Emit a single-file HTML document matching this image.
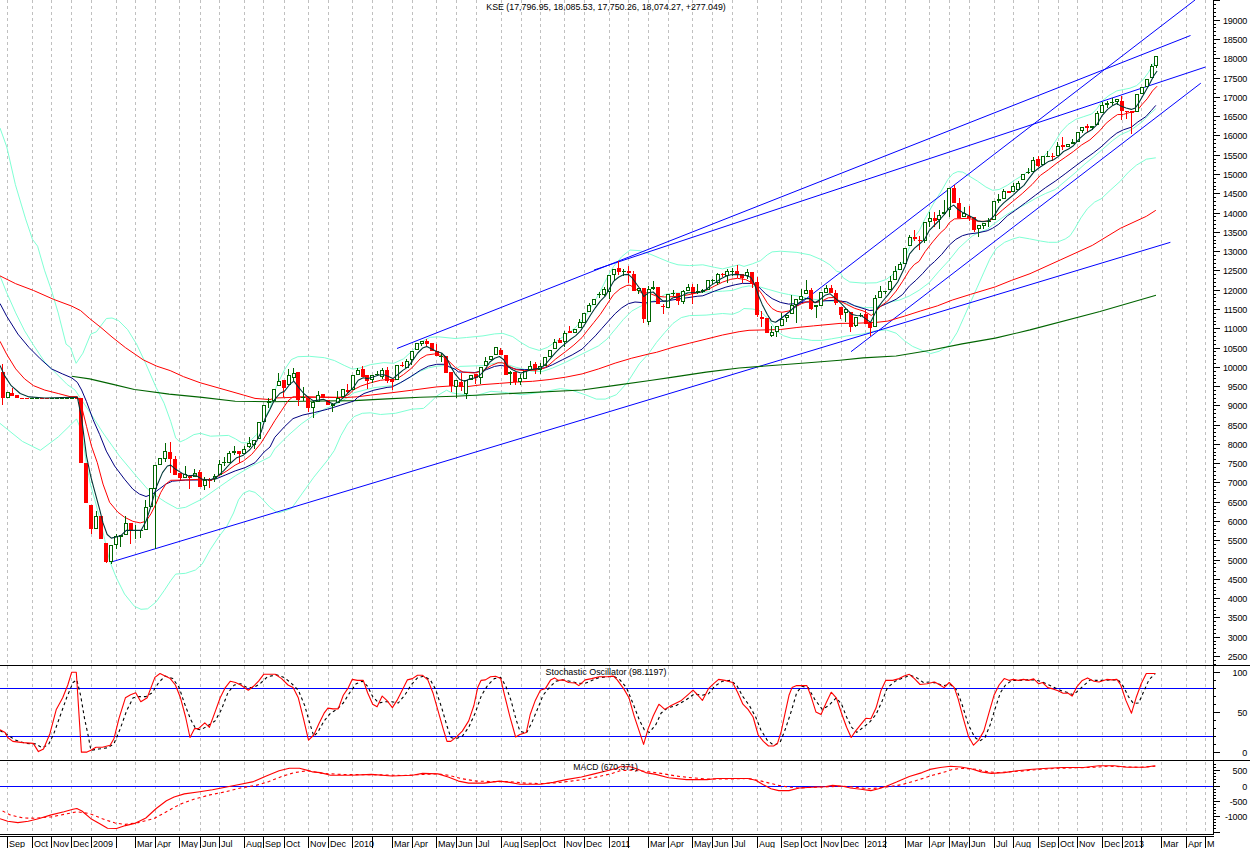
<!DOCTYPE html>
<html><head><meta charset="utf-8"><title>KSE</title>
<style>html,body{margin:0;padding:0;background:#fff;}body{width:1250px;height:848px;overflow:hidden;position:relative;font-family:"Liberation Sans",sans-serif;}</style></head>
<body>
<svg width="1250" height="848" viewBox="0 0 1250 848" style="position:absolute;left:0;top:0">
<rect width="1250" height="848" fill="#fff"/>
<g stroke="#c0c0c0" stroke-width="1" stroke-dasharray="3,3" shape-rendering="crispEdges">
<line x1="7.5" y1="0" x2="7.5" y2="834"/>
<line x1="32.5" y1="0" x2="32.5" y2="834"/>
<line x1="51.5" y1="0" x2="51.5" y2="834"/>
<line x1="71.5" y1="0" x2="71.5" y2="834"/>
<line x1="91.5" y1="0" x2="91.5" y2="834"/>
<line x1="116.5" y1="0" x2="116.5" y2="834"/>
<line x1="135.5" y1="0" x2="135.5" y2="834"/>
<line x1="155.5" y1="0" x2="155.5" y2="834"/>
<line x1="179.5" y1="0" x2="179.5" y2="834"/>
<line x1="200.5" y1="0" x2="200.5" y2="834"/>
<line x1="219.5" y1="0" x2="219.5" y2="834"/>
<line x1="244.5" y1="0" x2="244.5" y2="834"/>
<line x1="263.5" y1="0" x2="263.5" y2="834"/>
<line x1="284.5" y1="0" x2="284.5" y2="834"/>
<line x1="308.5" y1="0" x2="308.5" y2="834"/>
<line x1="328.5" y1="0" x2="328.5" y2="834"/>
<line x1="352.5" y1="0" x2="352.5" y2="834"/>
<line x1="372.5" y1="0" x2="372.5" y2="834"/>
<line x1="392.5" y1="0" x2="392.5" y2="834"/>
<line x1="412.5" y1="0" x2="412.5" y2="834"/>
<line x1="436.5" y1="0" x2="436.5" y2="834"/>
<line x1="456.5" y1="0" x2="456.5" y2="834"/>
<line x1="476.5" y1="0" x2="476.5" y2="834"/>
<line x1="501.5" y1="0" x2="501.5" y2="834"/>
<line x1="521.5" y1="0" x2="521.5" y2="834"/>
<line x1="540.5" y1="0" x2="540.5" y2="834"/>
<line x1="564.5" y1="0" x2="564.5" y2="834"/>
<line x1="584.5" y1="0" x2="584.5" y2="834"/>
<line x1="609.5" y1="0" x2="609.5" y2="834"/>
<line x1="628.5" y1="0" x2="628.5" y2="834"/>
<line x1="648.5" y1="0" x2="648.5" y2="834"/>
<line x1="668.5" y1="0" x2="668.5" y2="834"/>
<line x1="692.5" y1="0" x2="692.5" y2="834"/>
<line x1="712.5" y1="0" x2="712.5" y2="834"/>
<line x1="732.5" y1="0" x2="732.5" y2="834"/>
<line x1="757.5" y1="0" x2="757.5" y2="834"/>
<line x1="781.5" y1="0" x2="781.5" y2="834"/>
<line x1="801.5" y1="0" x2="801.5" y2="834"/>
<line x1="821.5" y1="0" x2="821.5" y2="834"/>
<line x1="841.5" y1="0" x2="841.5" y2="834"/>
<line x1="865.5" y1="0" x2="865.5" y2="834"/>
<line x1="885.5" y1="0" x2="885.5" y2="834"/>
<line x1="905.5" y1="0" x2="905.5" y2="834"/>
<line x1="929.5" y1="0" x2="929.5" y2="834"/>
<line x1="949.5" y1="0" x2="949.5" y2="834"/>
<line x1="969.5" y1="0" x2="969.5" y2="834"/>
<line x1="994.5" y1="0" x2="994.5" y2="834"/>
<line x1="1013.5" y1="0" x2="1013.5" y2="834"/>
<line x1="1038.5" y1="0" x2="1038.5" y2="834"/>
<line x1="1058.5" y1="0" x2="1058.5" y2="834"/>
<line x1="1077.5" y1="0" x2="1077.5" y2="834"/>
<line x1="1102.5" y1="0" x2="1102.5" y2="834"/>
<line x1="1122.5" y1="0" x2="1122.5" y2="834"/>
<line x1="1141.5" y1="0" x2="1141.5" y2="834"/>
<line x1="1161.5" y1="0" x2="1161.5" y2="834"/>
<line x1="1186.5" y1="0" x2="1186.5" y2="834"/>
<line x1="1205.5" y1="0" x2="1205.5" y2="834"/>
</g>
<g fill="none" stroke-width="1" stroke-linejoin="round">
<path d="M0.0,128.0 L6.8,147.0 L15.4,184.7 L25.6,218.9 L32.5,239.4 L37.6,246.2 L44.5,270.2 L51.5,290.5 L58.2,312.9 L66.1,344.2 L70.5,347.6 L76.1,363.3 L82.9,353.2 L90.7,334.1 L96.3,331.9 L106.4,318.5 L112.0,318.0 L118.7,320.7 L127.7,329.7 L136.6,344.2 L145.6,363.3 L156.0,387.2 L164.1,403.2 L170.7,421.4 L175.7,437.9 L179.8,442.0 L185.6,439.5 L193.9,434.6 L200.5,433.3 L210.4,436.2 L228.5,435.4 L235.2,438.7 L241.8,442.8 L246.7,442.8 L251.7,439.5 L256.6,434.6 L261.6,423.0 L270.0,408.1 L276.5,386.1 L284.7,369.5 L291.3,359.6 L297.9,356.7 L309.5,356.3 L324.4,357.7 L334.3,360.5 L344.2,365.4 L352.4,369.1 L360.7,367.9 L370.6,364.6 L383.8,362.6 L393.7,363.3 L403.6,358.8 L413.5,349.7 L421.8,341.5 L430.1,337.3 L438.3,336.8 L455.0,338.5 L466.5,337.5 L483.0,335.9 L494.6,333.9 L502.8,333.4 L512.8,336.7 L521.0,342.5 L529.3,347.4 L539.2,350.4 L547.4,347.4 L555.7,341.7 L565.6,335.1 L575.5,327.6 L585.4,316.1 L593.7,302.8 L600.3,291.3 L606.9,278.1 L613.5,266.5 L621.8,256.6 L630.0,250.0 L640.0,250.7 L649.9,254.0 L659.8,258.2 L669.7,262.3 L678.0,264.8 L689.5,265.6 L702.8,264.8 L714.3,267.3 L722.6,268.9 L732.5,266.4 L739.1,264.8 L744.0,266.4 L752.3,263.9 L760.6,260.6 L767.2,254.9 L772.1,251.9 L780.4,251.2 L796.9,252.4 L810.1,254.9 L821.7,259.8 L829.9,264.8 L836.6,271.2 L840.0,272.2 L843.2,277.8 L849.8,282.0 L863.0,283.1 L876.2,282.8 L886.2,279.5 L892.8,274.5 L899.4,267.1 L904.6,259.7 L909.6,246.9 L915.4,235.7 L919.2,230.8 L924.8,219.2 L933.0,204.3 L941.3,191.1 L947.9,179.5 L952.8,173.8 L957.8,171.6 L962.8,172.1 L969.4,176.2 L977.6,181.2 L985.9,187.0 L992.5,190.3 L999.1,189.5 L1007.3,185.3 L1015.6,179.5 L1023.9,174.6 L1032.1,168.0 L1040.4,159.7 L1048.6,151.5 L1055.2,141.6 L1060.9,132.1 L1067.9,124.6 L1075.9,119.3 L1083.8,116.6 L1091.7,114.0 L1097.0,108.7 L1102.3,100.8 L1108.9,95.5 L1116.8,90.9 L1123.4,89.5 L1130.0,88.2 L1136.6,85.6 L1143.2,79.6 L1148.5,72.4 L1152.5,65.1 L1156.4,59.8" stroke="#7fffd4"/>
<path d="M0.0,275.9 L6.7,292.7 L15.7,312.9 L24.6,330.8 L33.6,345.3 L44.8,362.1 L56.0,373.3 L67.2,384.5 L75.0,390.0 L91.5,414.8 L103.0,432.9 L119.5,456.1 L136.1,475.9 L147.6,489.1 L155.9,495.7 L165.8,502.3 L177.3,508.6 L185.6,507.3 L202.1,499.0 L218.6,487.4 L235.2,475.9 L251.7,466.0 L270.0,456.9 L274.8,448.8 L288.0,435.6 L301.2,424.0 L312.8,415.8 L324.4,409.2 L337.6,403.4 L347.5,397.6 L354.1,392.7 L364.0,390.2 L373.9,387.7 L387.1,386.1 L395.4,385.2 L403.6,381.1 L411.9,376.2 L420.2,371.2 L428.4,367.9 L436.7,366.2 L444.9,365.4 L455.0,369.5 L459.9,366.4 L483.0,365.6 L499.5,362.3 L516.1,367.3 L532.6,371.4 L542.5,371.4 L552.4,368.1 L565.6,362.3 L582.1,354.0 L598.6,345.8 L606.9,339.2 L615.2,329.3 L623.4,319.4 L631.7,311.1 L640.0,306.5 L649.1,302.8 L656.5,299.5 L664.8,294.5 L673.0,293.2 L689.5,292.8 L706.1,292.0 L722.6,291.2 L732.5,290.4 L742.4,287.1 L749.0,285.9 L758.9,286.7 L768.8,289.5 L780.4,292.8 L788.6,294.5 L798.5,296.2 L808.5,298.6 L821.7,300.3 L831.6,301.4 L840.0,301.3 L849.8,304.3 L863.0,307.6 L872.9,307.6 L879.5,305.9 L887.8,302.6 L899.4,300.1 L909.3,296.0 L919.2,290.2 L929.1,282.8 L939.0,271.2 L948.9,260.5 L958.8,248.1 L967.4,240.3 L972.7,235.7 L979.0,232.4 L987.2,229.5 L992.5,225.0 L999.1,220.0 L1007.3,214.2 L1015.6,209.3 L1025.5,204.3 L1035.4,198.5 L1045.3,193.6 L1055.2,189.5 L1065.2,181.2 L1075.1,172.9 L1085.0,163.9 L1093.2,157.3 L1100.0,151.5 L1112.8,140.4 L1120.8,134.5 L1128.7,131.2 L1134.0,127.9 L1141.9,121.9 L1149.8,114.0 L1155.8,108.7" stroke="#7fffd4"/>
<path d="M0.0,423.4 L22.4,441.4 L40.3,450.3 L58.3,436.9 L70.0,425.5 L76.6,418.9 L81.6,431.3 L86.5,464.3 L90.6,485.0 L94.8,499.8 L99.7,518.0 L104.7,539.5 L109.6,560.9 L116.2,577.4 L124.5,594.0 L134.4,606.3 L141.0,609.3 L147.6,608.8 L155.9,602.2 L164.1,590.7 L170.7,580.7 L175.7,574.1 L185.6,573.3 L195.5,570.0 L202.1,564.2 L210.4,549.4 L218.6,537.0 L226.9,526.2 L233.5,513.0 L238.5,499.8 L243.4,493.2 L249.2,490.7 L255.0,492.4 L261.6,498.2 L270.0,507.3 L278.0,513.0 L291.4,508.6 L313.8,477.2 L327.7,460.0 L334.3,450.5 L340.9,435.6 L347.5,424.0 L354.1,416.6 L362.3,413.3 L370.6,412.8 L380.5,414.5 L395.4,413.3 L411.9,409.2 L423.5,408.4 L430.1,402.6 L436.7,396.0 L446.6,390.2 L451.5,392.7 L455.0,393.5 L475.3,395.8 L491.0,391.3 L504.4,392.4 L522.3,394.7 L540.3,392.4 L560.4,388.6 L571.6,390.2 L585.1,394.7 L596.3,399.1 L605.2,399.1 L616.4,394.7 L627.6,382.3 L639.4,363.7 L648.3,354.0 L656.5,342.4 L664.8,332.5 L673.0,323.4 L681.3,317.6 L689.5,315.6 L706.1,315.1 L722.6,313.5 L732.5,314.3 L739.1,311.8 L744.0,308.5 L752.3,309.0 L758.9,310.2 L765.5,316.0 L772.1,324.2 L777.1,331.7 L783.7,335.8 L791.9,338.3 L801.8,338.8 L811.8,340.4 L821.7,340.4 L831.6,338.8 L840.0,337.4 L846.5,336.0 L863.0,334.0 L876.2,330.7 L886.2,329.9 L896.1,333.2 L904.3,340.6 L912.6,346.4 L922.5,350.5 L930.7,353.5 L939.0,351.3 L948.9,345.6 L957.2,332.3 L963.8,317.5 L970.4,302.6 L977.0,287.8 L983.6,272.9 L989.7,259.3 L996.3,248.5 L1004.6,242.3 L1012.8,239.0 L1019.4,237.1 L1029.4,238.8 L1040.4,241.0 L1048.6,242.3 L1056.9,242.3 L1065.2,239.0 L1070.1,235.7 L1074.6,228.9 L1080.9,217.9 L1087.3,208.8 L1094.6,202.1 L1101.2,198.8 L1110.3,190.2 L1120.3,181.2 L1128.4,172.2 L1136.4,165.2 L1146.4,159.2 L1155.8,157.8" stroke="#7fffd4"/>
</g>
<g stroke="#0000ff" stroke-width="1" fill="none">
<line x1="397" y1="348.5" x2="1190.5" y2="35.5"/>
<line x1="594" y1="270" x2="1205.5" y2="67"/>
<line x1="776" y1="322" x2="1195" y2="0"/>
<line x1="851" y1="351.7" x2="1200.8" y2="83.2"/>
<line x1="111.3" y1="562" x2="1170.4" y2="242.3"/>
</g>
<g fill="none" stroke-width="1" stroke-linejoin="round">
<path d="M71.7,376.2 L89.6,378.9 L112.0,384.1 L134.4,389.5 L138.5,390.0 L169.1,394.1 L202.1,397.4 L235.2,401.2 L270.8,401.8 L304.5,401.3 L354.1,400.6 L387.1,398.9 L420.2,397.3 L455.0,396.3 L582.1,390.0 L615.2,385.4 L650.0,380.5 L673.0,377.1 L706.1,372.1 L739.1,368.0 L772.1,365.5 L805.2,363.0 L840.0,360.2 L863.0,357.9 L896.1,356.0 L929.1,350.5 L962.1,343.9 L995.2,338.1 L1030.0,329.9 L1100.0,311.5 L1156.0,295.3" stroke="#006400" stroke-width="1.1"/>
<path d="M0.0,275.9 L15.7,283.7 L33.6,290.5 L53.7,299.4 L71.7,306.1 L80.6,310.6 L89.6,318.5 L100.8,327.4 L112.0,337.0 L125.4,347.6 L143.3,359.9 L156.8,366.2 L170.2,370.6 L183.6,376.7 L200.0,382.7 L243.4,395.0 L255.0,398.4 L270.0,399.6 L274.8,398.0 L294.6,397.3 L321.1,397.3 L344.2,397.6 L357.4,396.8 L370.6,395.1 L392.1,392.7 L411.9,390.2 L436.7,386.9 L455.0,385.7 L466.5,386.7 L483.0,384.6 L499.5,383.4 L516.1,382.1 L532.6,381.3 L549.1,379.6 L565.6,377.2 L582.1,373.9 L598.6,368.9 L615.2,363.1 L631.7,358.2 L650.0,353.7 L656.5,352.3 L673.0,347.3 L689.5,343.2 L706.1,339.1 L722.6,335.0 L739.1,331.7 L749.0,330.3 L780.4,329.5 L796.9,327.5 L813.4,325.9 L840.0,323.4 L854.8,323.3 L876.2,322.4 L887.8,321.1 L904.3,316.2 L920.8,310.9 L937.3,305.9 L952.2,300.1 L970.4,294.4 L995.2,286.9 L1011.7,280.3 L1030.0,273.7 L1060.2,260.0 L1092.3,245.4 L1120.4,228.3 L1146.4,216.3 L1155.8,210.3" stroke="#ff0000"/>
<path d="M0.0,303.5 L6.7,316.2 L17.9,334.1 L29.1,347.6 L40.3,358.8 L51.5,368.9 L62.7,374.0 L71.7,377.8 L77.3,382.3 L81.6,390.0 L86.5,401.6 L93.1,419.7 L99.7,434.6 L106.3,451.1 L114.6,466.0 L124.5,479.2 L132.8,489.1 L139.4,494.0 L146.0,496.5 L152.6,494.0 L159.2,489.1 L165.8,484.1 L172.4,481.2 L185.6,480.0 L202.1,480.0 L215.3,479.2 L225.2,475.1 L235.2,470.9 L245.1,467.6 L255.0,462.7 L264.1,452.0 L270.0,447.0 L274.8,437.3 L284.7,426.5 L293.0,418.6 L302.9,415.0 L314.5,412.5 L327.7,409.2 L340.9,405.1 L354.1,400.9 L357.4,397.6 L364.0,393.5 L373.9,390.2 L387.1,387.4 L392.1,386.9 L400.3,382.8 L410.2,377.0 L420.2,370.4 L428.4,366.2 L436.7,364.3 L444.9,364.3 L449.9,367.1 L455.0,369.1 L458.3,371.9 L474.8,372.5 L486.3,369.7 L494.6,366.4 L501.2,365.3 L507.8,366.9 L516.1,369.2 L524.3,369.7 L535.9,369.2 L545.8,367.6 L552.4,364.8 L562.3,359.8 L572.2,354.9 L582.1,349.1 L588.7,342.5 L595.3,335.9 L601.9,328.4 L608.5,321.0 L615.2,313.6 L621.8,307.8 L628.4,303.7 L635.0,302.0 L640.0,302.4 L644.9,303.2 L649.9,301.9 L664.8,301.1 L681.3,298.6 L697.8,296.2 L702.8,295.8 L714.3,291.2 L725.9,287.1 L735.8,284.6 L742.4,283.4 L752.3,283.4 L758.9,287.1 L765.5,293.7 L772.1,298.6 L780.4,302.4 L788.6,304.1 L796.9,303.6 L805.2,301.9 L815.1,302.4 L825.0,300.8 L834.9,300.3 L839.1,301.0 L846.5,301.8 L854.8,305.9 L863.0,308.4 L869.6,310.5 L874.6,310.1 L879.5,306.8 L886.2,303.9 L896.1,299.3 L902.7,294.4 L909.3,286.1 L915.9,280.3 L922.5,273.7 L929.1,266.3 L934.4,261.7 L941.8,254.3 L949.2,245.2 L955.8,239.4 L962.4,235.7 L968.2,234.1 L978.1,232.8 L987.2,230.8 L992.5,228.3 L998.8,224.2 L1007.3,215.9 L1015.6,210.1 L1025.5,202.7 L1035.4,195.2 L1045.3,187.8 L1055.2,181.2 L1065.2,173.8 L1075.1,166.3 L1085.0,158.9 L1093.2,153.1 L1101.1,146.9 L1110.2,138.4 L1116.8,133.1 L1123.4,129.8 L1131.3,127.2 L1137.9,121.9 L1145.9,116.6 L1151.2,110.7 L1155.8,105.4" stroke="#000080"/>
<path d="M0.0,341.3 L6.7,354.3 L15.7,368.9 L24.6,378.9 L33.6,385.7 L44.8,390.1 L58.2,393.5 L70.0,396.6 L77.4,396.6 L81.6,406.5 L86.5,426.3 L91.5,446.2 L97.3,462.7 L103.0,484.1 L109.6,502.3 L117.9,512.2 L124.5,517.2 L132.8,521.3 L140.2,522.9 L146.0,521.3 L150.9,513.9 L155.9,504.0 L160.8,492.4 L165.8,484.1 L170.7,480.3 L185.6,480.0 L202.1,479.2 L212.0,480.0 L218.6,475.9 L226.9,470.9 L235.2,465.1 L243.4,461.0 L251.7,454.4 L260.8,443.4 L269.1,430.1 L274.8,420.7 L281.4,410.8 L288.0,400.9 L293.0,396.8 L304.5,396.8 L337.6,397.3 L344.2,396.8 L349.1,394.3 L354.1,389.4 L360.7,386.1 L370.6,382.8 L380.5,380.3 L387.1,379.5 L395.4,379.8 L403.6,374.5 L411.9,367.9 L420.2,358.8 L426.8,355.0 L435.0,353.9 L441.6,355.5 L448.2,360.5 L455.8,368.0 L463.2,372.2 L474.8,373.0 L483.0,370.6 L491.3,365.6 L497.9,362.8 L502.8,362.8 L507.8,365.6 L516.1,369.7 L524.3,370.6 L535.9,370.2 L544.1,368.1 L549.1,364.8 L555.7,359.0 L565.6,351.6 L573.9,345.0 L582.1,337.5 L587.1,330.9 L593.7,322.7 L600.3,314.4 L606.9,304.5 L613.5,294.6 L620.1,288.8 L626.7,285.5 L630.0,285.2 L633.3,287.2 L639.1,291.7 L644.1,292.9 L648.3,292.8 L656.5,296.2 L664.8,297.0 L681.3,296.2 L697.8,292.8 L706.1,290.4 L714.3,286.2 L722.6,282.1 L730.8,279.3 L737.4,278.3 L745.7,279.6 L752.3,282.9 L757.3,287.9 L762.2,294.5 L767.2,302.8 L772.1,308.5 L777.1,311.3 L782.0,312.3 L788.6,311.0 L795.2,306.9 L801.8,303.6 L808.5,301.4 L815.1,302.4 L821.7,301.1 L828.3,297.8 L833.2,297.5 L839.1,300.6 L846.5,304.3 L854.8,308.4 L863.0,310.9 L868.0,313.4 L871.3,315.5 L876.2,310.9 L881.2,305.9 L887.8,301.0 L896.1,291.1 L902.7,281.2 L909.3,270.4 L914.2,264.6 L919.1,261.3 L925.3,251.4 L932.7,241.9 L940.1,233.2 L945.6,228.3 L949.5,222.5 L954.5,218.9 L966.1,218.4 L972.7,219.2 L977.6,221.3 L989.2,221.3 L994.1,217.5 L1002.4,210.1 L1012.3,201.8 L1022.2,193.6 L1032.1,184.5 L1040.4,175.4 L1048.6,169.6 L1056.9,163.0 L1065.2,157.3 L1073.4,151.5 L1081.7,144.9 L1089.9,139.9 L1099.8,130.7 L1106.2,123.2 L1112.8,117.9 L1117.5,114.6 L1123.4,114.4 L1131.3,112.0 L1136.6,111.3 L1141.9,104.7 L1147.2,98.8 L1152.5,90.9 L1157.1,86.2" stroke="#ff0000"/>
</g>
<g shape-rendering="crispEdges">
<rect x="2" y="364" width="1" height="41" fill="#ff0000"/>
<rect x="1" y="372" width="4" height="26" fill="#ff0000"/>
<rect x="6.5" y="392.5" width="3" height="5" fill="#fff" stroke="#006400" stroke-width="1"/>
<rect x="12" y="388" width="1" height="8" fill="#ff0000"/>
<rect x="10" y="393" width="4" height="3" fill="#ff0000"/>
<rect x="17" y="395" width="1" height="3" fill="#ff0000"/>
<rect x="15" y="395" width="4" height="3" fill="#ff0000"/>
<rect x="22" y="398" width="1" height="1" fill="#ff0000"/>
<rect x="20" y="398" width="4" height="1" fill="#ff0000"/>
<rect x="27" y="398" width="1" height="1" fill="#ff0000"/>
<rect x="25" y="398" width="4" height="1" fill="#ff0000"/>
<rect x="32" y="398" width="1" height="1" fill="#006400"/>
<rect x="30" y="398" width="4" height="1" fill="#006400"/>
<rect x="37" y="398" width="1" height="1" fill="#006400"/>
<rect x="35" y="398" width="4" height="1" fill="#006400"/>
<rect x="42" y="398" width="1" height="1" fill="#ff0000"/>
<rect x="40" y="398" width="4" height="1" fill="#ff0000"/>
<rect x="46" y="398" width="1" height="1" fill="#ff0000"/>
<rect x="45" y="398" width="4" height="1" fill="#ff0000"/>
<rect x="51" y="398" width="1" height="1" fill="#006400"/>
<rect x="50" y="398" width="4" height="1" fill="#006400"/>
<rect x="56" y="398" width="1" height="1" fill="#006400"/>
<rect x="55" y="398" width="4" height="1" fill="#006400"/>
<rect x="61" y="398" width="1" height="1" fill="#006400"/>
<rect x="60" y="398" width="4" height="1" fill="#006400"/>
<rect x="66" y="398" width="1" height="1" fill="#006400"/>
<rect x="65" y="398" width="4" height="1" fill="#006400"/>
<rect x="71" y="398" width="1" height="1" fill="#006400"/>
<rect x="70" y="398" width="4" height="1" fill="#006400"/>
<rect x="76" y="398" width="1" height="1" fill="#ff0000"/>
<rect x="75" y="398" width="4" height="1" fill="#ff0000"/>
<rect x="81" y="398" width="1" height="65" fill="#ff0000"/>
<rect x="79" y="398" width="4" height="65" fill="#ff0000"/>
<rect x="86" y="463" width="1" height="40" fill="#ff0000"/>
<rect x="84" y="463" width="4" height="40" fill="#ff0000"/>
<rect x="91" y="505" width="1" height="29" fill="#ff0000"/>
<rect x="89" y="505" width="4" height="24" fill="#ff0000"/>
<rect x="96" y="511" width="1" height="5" fill="#006400"/>
<rect x="94.5" y="516.5" width="3" height="12" fill="#fff" stroke="#006400" stroke-width="1"/>
<rect x="101" y="516" width="1" height="23" fill="#ff0000"/>
<rect x="99" y="516" width="4" height="23" fill="#ff0000"/>
<rect x="106" y="543" width="1" height="20" fill="#ff0000"/>
<rect x="104" y="543" width="4" height="19" fill="#ff0000"/>
<rect x="111" y="562" width="1" height="2" fill="#006400"/>
<rect x="109.5" y="545.5" width="3" height="16" fill="#fff" stroke="#006400" stroke-width="1"/>
<rect x="116" y="534" width="1" height="2" fill="#006400"/>
<rect x="116" y="545" width="1" height="4" fill="#006400"/>
<rect x="114.5" y="536.5" width="3" height="8" fill="#fff" stroke="#006400" stroke-width="1"/>
<rect x="120" y="535" width="1" height="12" fill="#006400"/>
<rect x="119" y="535" width="4" height="2" fill="#006400"/>
<rect x="125" y="516" width="1" height="7" fill="#006400"/>
<rect x="124.5" y="523.5" width="3" height="11" fill="#fff" stroke="#006400" stroke-width="1"/>
<rect x="130" y="523" width="1" height="21" fill="#ff0000"/>
<rect x="129" y="523" width="4" height="7" fill="#ff0000"/>
<rect x="135" y="525" width="1" height="14" fill="#006400"/>
<rect x="134" y="530" width="4" height="1" fill="#006400"/>
<rect x="140" y="530" width="1" height="8" fill="#006400"/>
<rect x="139" y="530" width="4" height="1" fill="#006400"/>
<rect x="145" y="500" width="1" height="7" fill="#006400"/>
<rect x="144.5" y="507.5" width="3" height="22" fill="#fff" stroke="#006400" stroke-width="1"/>
<rect x="149.5" y="488.5" width="3" height="18" fill="#fff" stroke="#006400" stroke-width="1"/>
<rect x="155" y="489" width="1" height="60" fill="#006400"/>
<rect x="153.5" y="465.5" width="3" height="23" fill="#fff" stroke="#006400" stroke-width="1"/>
<rect x="158.5" y="458.5" width="3" height="6" fill="#fff" stroke="#006400" stroke-width="1"/>
<rect x="165" y="443" width="1" height="8" fill="#006400"/>
<rect x="165" y="459" width="1" height="3" fill="#006400"/>
<rect x="163.5" y="451.5" width="3" height="7" fill="#fff" stroke="#006400" stroke-width="1"/>
<rect x="170" y="442" width="1" height="31" fill="#ff0000"/>
<rect x="168" y="452" width="4" height="7" fill="#ff0000"/>
<rect x="175" y="456" width="1" height="19" fill="#ff0000"/>
<rect x="173" y="459" width="4" height="16" fill="#ff0000"/>
<rect x="180" y="473" width="1" height="7" fill="#ff0000"/>
<rect x="178" y="473" width="4" height="5" fill="#ff0000"/>
<rect x="185" y="466" width="1" height="8" fill="#006400"/>
<rect x="183.5" y="474.5" width="3" height="3" fill="#fff" stroke="#006400" stroke-width="1"/>
<rect x="189" y="475" width="1" height="14" fill="#ff0000"/>
<rect x="188" y="476" width="4" height="2" fill="#ff0000"/>
<rect x="194" y="469" width="1" height="4" fill="#006400"/>
<rect x="193.5" y="473.5" width="3" height="3" fill="#fff" stroke="#006400" stroke-width="1"/>
<rect x="199" y="470" width="1" height="17" fill="#ff0000"/>
<rect x="198" y="472" width="4" height="15" fill="#ff0000"/>
<rect x="204" y="477" width="1" height="3" fill="#006400"/>
<rect x="204" y="486" width="1" height="4" fill="#006400"/>
<rect x="203.5" y="480.5" width="3" height="5" fill="#fff" stroke="#006400" stroke-width="1"/>
<rect x="209" y="478" width="1" height="10" fill="#ff0000"/>
<rect x="208" y="480" width="4" height="1" fill="#ff0000"/>
<rect x="214" y="474" width="1" height="2" fill="#006400"/>
<rect x="214" y="479" width="1" height="3" fill="#006400"/>
<rect x="213.5" y="476.5" width="3" height="2" fill="#fff" stroke="#006400" stroke-width="1"/>
<rect x="219" y="460" width="1" height="4" fill="#006400"/>
<rect x="218.5" y="464.5" width="3" height="10" fill="#fff" stroke="#006400" stroke-width="1"/>
<rect x="224" y="457" width="1" height="9" fill="#006400"/>
<rect x="222" y="462" width="4" height="1" fill="#006400"/>
<rect x="229" y="451" width="1" height="2" fill="#006400"/>
<rect x="227.5" y="453.5" width="3" height="9" fill="#fff" stroke="#006400" stroke-width="1"/>
<rect x="234" y="446" width="1" height="9" fill="#006400"/>
<rect x="232" y="451" width="4" height="2" fill="#006400"/>
<rect x="239" y="451" width="1" height="12" fill="#ff0000"/>
<rect x="237" y="451" width="4" height="3" fill="#ff0000"/>
<rect x="244" y="446" width="1" height="3" fill="#006400"/>
<rect x="242.5" y="449.5" width="3" height="4" fill="#fff" stroke="#006400" stroke-width="1"/>
<rect x="249" y="437" width="1" height="6" fill="#006400"/>
<rect x="249" y="447" width="1" height="1" fill="#006400"/>
<rect x="247.5" y="443.5" width="3" height="3" fill="#fff" stroke="#006400" stroke-width="1"/>
<rect x="254" y="445" width="1" height="4" fill="#006400"/>
<rect x="252.5" y="440.5" width="3" height="4" fill="#fff" stroke="#006400" stroke-width="1"/>
<rect x="257.5" y="422.5" width="3" height="16" fill="#fff" stroke="#006400" stroke-width="1"/>
<rect x="262.5" y="405.5" width="3" height="16" fill="#fff" stroke="#006400" stroke-width="1"/>
<rect x="268" y="398" width="1" height="10" fill="#006400"/>
<rect x="267" y="401" width="4" height="2" fill="#006400"/>
<rect x="272.5" y="389.5" width="3" height="11" fill="#fff" stroke="#006400" stroke-width="1"/>
<rect x="278" y="373" width="1" height="8" fill="#006400"/>
<rect x="277.5" y="381.5" width="3" height="4" fill="#fff" stroke="#006400" stroke-width="1"/>
<rect x="283" y="380" width="1" height="17" fill="#ff0000"/>
<rect x="282" y="380" width="4" height="8" fill="#ff0000"/>
<rect x="288" y="369" width="1" height="6" fill="#006400"/>
<rect x="287.5" y="375.5" width="3" height="9" fill="#fff" stroke="#006400" stroke-width="1"/>
<rect x="293" y="368" width="1" height="5" fill="#006400"/>
<rect x="293" y="378" width="1" height="3" fill="#006400"/>
<rect x="292.5" y="373.5" width="3" height="4" fill="#fff" stroke="#006400" stroke-width="1"/>
<rect x="298" y="372" width="1" height="34" fill="#ff0000"/>
<rect x="296" y="372" width="4" height="28" fill="#ff0000"/>
<rect x="303" y="387" width="1" height="14" fill="#006400"/>
<rect x="301" y="397" width="4" height="1" fill="#006400"/>
<rect x="308" y="396" width="1" height="16" fill="#ff0000"/>
<rect x="306" y="398" width="4" height="10" fill="#ff0000"/>
<rect x="313" y="401" width="1" height="1" fill="#006400"/>
<rect x="313" y="408" width="1" height="10" fill="#006400"/>
<rect x="311.5" y="402.5" width="3" height="5" fill="#fff" stroke="#006400" stroke-width="1"/>
<rect x="318" y="391" width="1" height="4" fill="#006400"/>
<rect x="316.5" y="395.5" width="3" height="6" fill="#fff" stroke="#006400" stroke-width="1"/>
<rect x="323" y="394" width="1" height="4" fill="#ff0000"/>
<rect x="321" y="394" width="4" height="4" fill="#ff0000"/>
<rect x="328" y="400" width="1" height="5" fill="#ff0000"/>
<rect x="326" y="400" width="4" height="5" fill="#ff0000"/>
<rect x="332" y="403" width="1" height="9" fill="#006400"/>
<rect x="331" y="404" width="4" height="2" fill="#006400"/>
<rect x="337" y="391" width="1" height="7" fill="#006400"/>
<rect x="336.5" y="398.5" width="3" height="4" fill="#fff" stroke="#006400" stroke-width="1"/>
<rect x="341.5" y="389.5" width="3" height="7" fill="#fff" stroke="#006400" stroke-width="1"/>
<rect x="347" y="384" width="1" height="9" fill="#ff0000"/>
<rect x="346" y="390" width="4" height="2" fill="#ff0000"/>
<rect x="351.5" y="375.5" width="3" height="14" fill="#fff" stroke="#006400" stroke-width="1"/>
<rect x="357" y="368" width="1" height="2" fill="#006400"/>
<rect x="356.5" y="370.5" width="3" height="4" fill="#fff" stroke="#006400" stroke-width="1"/>
<rect x="362" y="366" width="1" height="11" fill="#ff0000"/>
<rect x="361" y="369" width="4" height="8" fill="#ff0000"/>
<rect x="367" y="375" width="1" height="14" fill="#ff0000"/>
<rect x="365" y="375" width="4" height="6" fill="#ff0000"/>
<rect x="372" y="380" width="1" height="3" fill="#006400"/>
<rect x="370.5" y="375.5" width="3" height="4" fill="#fff" stroke="#006400" stroke-width="1"/>
<rect x="377" y="371" width="1" height="5" fill="#006400"/>
<rect x="375" y="374" width="4" height="1" fill="#006400"/>
<rect x="382" y="368" width="1" height="2" fill="#006400"/>
<rect x="382" y="377" width="1" height="2" fill="#006400"/>
<rect x="380.5" y="370.5" width="3" height="6" fill="#fff" stroke="#006400" stroke-width="1"/>
<rect x="387" y="367" width="1" height="16" fill="#ff0000"/>
<rect x="385" y="370" width="4" height="11" fill="#ff0000"/>
<rect x="392" y="378" width="1" height="12" fill="#ff0000"/>
<rect x="390" y="379" width="4" height="3" fill="#ff0000"/>
<rect x="395.5" y="365.5" width="3" height="14" fill="#fff" stroke="#006400" stroke-width="1"/>
<rect x="402" y="362" width="1" height="5" fill="#ff0000"/>
<rect x="400" y="365" width="4" height="1" fill="#ff0000"/>
<rect x="406" y="359" width="1" height="2" fill="#006400"/>
<rect x="405.5" y="361.5" width="3" height="6" fill="#fff" stroke="#006400" stroke-width="1"/>
<rect x="411" y="360" width="1" height="5" fill="#006400"/>
<rect x="410.5" y="351.5" width="3" height="8" fill="#fff" stroke="#006400" stroke-width="1"/>
<rect x="415.5" y="343.5" width="3" height="6" fill="#fff" stroke="#006400" stroke-width="1"/>
<rect x="421" y="344" width="1" height="2" fill="#006400"/>
<rect x="420.5" y="341.5" width="3" height="2" fill="#fff" stroke="#006400" stroke-width="1"/>
<rect x="426" y="339" width="1" height="7" fill="#ff0000"/>
<rect x="425" y="341" width="4" height="3" fill="#ff0000"/>
<rect x="431" y="343" width="1" height="8" fill="#ff0000"/>
<rect x="430" y="343" width="4" height="8" fill="#ff0000"/>
<rect x="436" y="344" width="1" height="12" fill="#ff0000"/>
<rect x="435" y="351" width="4" height="5" fill="#ff0000"/>
<rect x="441" y="353" width="1" height="9" fill="#006400"/>
<rect x="439" y="356" width="4" height="1" fill="#006400"/>
<rect x="446" y="356" width="1" height="17" fill="#ff0000"/>
<rect x="444" y="356" width="4" height="17" fill="#ff0000"/>
<rect x="451" y="372" width="1" height="20" fill="#ff0000"/>
<rect x="449" y="372" width="4" height="14" fill="#ff0000"/>
<rect x="456" y="387" width="1" height="11" fill="#006400"/>
<rect x="454.5" y="380.5" width="3" height="6" fill="#fff" stroke="#006400" stroke-width="1"/>
<rect x="461" y="373" width="1" height="18" fill="#ff0000"/>
<rect x="459" y="382" width="4" height="5" fill="#ff0000"/>
<rect x="466" y="394" width="1" height="5" fill="#006400"/>
<rect x="464.5" y="380.5" width="3" height="13" fill="#fff" stroke="#006400" stroke-width="1"/>
<rect x="469.5" y="375.5" width="3" height="4" fill="#fff" stroke="#006400" stroke-width="1"/>
<rect x="475" y="374" width="1" height="10" fill="#ff0000"/>
<rect x="474" y="374" width="4" height="4" fill="#ff0000"/>
<rect x="480" y="378" width="1" height="6" fill="#006400"/>
<rect x="479.5" y="367.5" width="3" height="10" fill="#fff" stroke="#006400" stroke-width="1"/>
<rect x="485" y="357" width="1" height="4" fill="#006400"/>
<rect x="484.5" y="361.5" width="3" height="4" fill="#fff" stroke="#006400" stroke-width="1"/>
<rect x="489.5" y="356.5" width="3" height="3" fill="#fff" stroke="#006400" stroke-width="1"/>
<rect x="494.5" y="347.5" width="3" height="7" fill="#fff" stroke="#006400" stroke-width="1"/>
<rect x="500" y="348" width="1" height="7" fill="#ff0000"/>
<rect x="499" y="350" width="4" height="5" fill="#ff0000"/>
<rect x="505" y="355" width="1" height="20" fill="#ff0000"/>
<rect x="504" y="355" width="4" height="20" fill="#ff0000"/>
<rect x="510" y="371" width="1" height="14" fill="#006400"/>
<rect x="508" y="372" width="4" height="2" fill="#006400"/>
<rect x="515" y="372" width="1" height="13" fill="#ff0000"/>
<rect x="513" y="372" width="4" height="10" fill="#ff0000"/>
<rect x="520" y="374" width="1" height="4" fill="#006400"/>
<rect x="520" y="382" width="1" height="3" fill="#006400"/>
<rect x="518.5" y="378.5" width="3" height="3" fill="#fff" stroke="#006400" stroke-width="1"/>
<rect x="523.5" y="371.5" width="3" height="7" fill="#fff" stroke="#006400" stroke-width="1"/>
<rect x="530" y="361" width="1" height="5" fill="#006400"/>
<rect x="528.5" y="366.5" width="3" height="3" fill="#fff" stroke="#006400" stroke-width="1"/>
<rect x="535" y="362" width="1" height="12" fill="#ff0000"/>
<rect x="533" y="364" width="4" height="6" fill="#ff0000"/>
<rect x="540" y="363" width="1" height="3" fill="#006400"/>
<rect x="540" y="370" width="1" height="4" fill="#006400"/>
<rect x="538.5" y="366.5" width="3" height="3" fill="#fff" stroke="#006400" stroke-width="1"/>
<rect x="543.5" y="357.5" width="3" height="8" fill="#fff" stroke="#006400" stroke-width="1"/>
<rect x="548.5" y="350.5" width="3" height="6" fill="#fff" stroke="#006400" stroke-width="1"/>
<rect x="554" y="339" width="1" height="3" fill="#006400"/>
<rect x="553.5" y="342.5" width="3" height="6" fill="#fff" stroke="#006400" stroke-width="1"/>
<rect x="559" y="338" width="1" height="5" fill="#ff0000"/>
<rect x="558" y="340" width="4" height="3" fill="#ff0000"/>
<rect x="564" y="331" width="1" height="2" fill="#006400"/>
<rect x="564" y="342" width="1" height="5" fill="#006400"/>
<rect x="563.5" y="333.5" width="3" height="8" fill="#fff" stroke="#006400" stroke-width="1"/>
<rect x="569" y="326" width="1" height="7" fill="#ff0000"/>
<rect x="568" y="331" width="4" height="2" fill="#ff0000"/>
<rect x="573.5" y="329.5" width="3" height="3" fill="#fff" stroke="#006400" stroke-width="1"/>
<rect x="579" y="319" width="1" height="3" fill="#006400"/>
<rect x="578.5" y="322.5" width="3" height="5" fill="#fff" stroke="#006400" stroke-width="1"/>
<rect x="582.5" y="313.5" width="3" height="9" fill="#fff" stroke="#006400" stroke-width="1"/>
<rect x="589" y="303" width="1" height="2" fill="#006400"/>
<rect x="587.5" y="305.5" width="3" height="6" fill="#fff" stroke="#006400" stroke-width="1"/>
<rect x="592.5" y="299.5" width="3" height="5" fill="#fff" stroke="#006400" stroke-width="1"/>
<rect x="599" y="292" width="1" height="6" fill="#006400"/>
<rect x="597" y="294" width="4" height="1" fill="#006400"/>
<rect x="604" y="287" width="1" height="2" fill="#006400"/>
<rect x="604" y="295" width="1" height="1" fill="#006400"/>
<rect x="602.5" y="289.5" width="3" height="5" fill="#fff" stroke="#006400" stroke-width="1"/>
<rect x="609" y="292" width="1" height="7" fill="#006400"/>
<rect x="607.5" y="275.5" width="3" height="16" fill="#fff" stroke="#006400" stroke-width="1"/>
<rect x="614" y="275" width="1" height="6" fill="#006400"/>
<rect x="612.5" y="269.5" width="3" height="5" fill="#fff" stroke="#006400" stroke-width="1"/>
<rect x="618" y="261" width="1" height="14" fill="#ff0000"/>
<rect x="617" y="268" width="4" height="4" fill="#ff0000"/>
<rect x="623" y="269" width="1" height="7" fill="#006400"/>
<rect x="622" y="271" width="4" height="1" fill="#006400"/>
<rect x="628" y="266" width="1" height="17" fill="#ff0000"/>
<rect x="627" y="271" width="4" height="2" fill="#ff0000"/>
<rect x="633" y="271" width="1" height="20" fill="#ff0000"/>
<rect x="632" y="274" width="4" height="17" fill="#ff0000"/>
<rect x="638" y="291" width="1" height="3" fill="#006400"/>
<rect x="637.5" y="288.5" width="3" height="2" fill="#fff" stroke="#006400" stroke-width="1"/>
<rect x="643" y="288" width="1" height="35" fill="#ff0000"/>
<rect x="642" y="288" width="4" height="31" fill="#ff0000"/>
<rect x="648" y="286" width="1" height="3" fill="#006400"/>
<rect x="648" y="322" width="1" height="3" fill="#006400"/>
<rect x="647.5" y="289.5" width="3" height="32" fill="#fff" stroke="#006400" stroke-width="1"/>
<rect x="653" y="281" width="1" height="9" fill="#006400"/>
<rect x="651" y="287" width="4" height="2" fill="#006400"/>
<rect x="658" y="287" width="1" height="17" fill="#ff0000"/>
<rect x="656" y="287" width="4" height="17" fill="#ff0000"/>
<rect x="663" y="304" width="1" height="10" fill="#ff0000"/>
<rect x="661" y="306" width="4" height="1" fill="#ff0000"/>
<rect x="666.5" y="294.5" width="3" height="13" fill="#fff" stroke="#006400" stroke-width="1"/>
<rect x="673" y="290" width="1" height="6" fill="#006400"/>
<rect x="671" y="293" width="4" height="1" fill="#006400"/>
<rect x="678" y="293" width="1" height="12" fill="#ff0000"/>
<rect x="676" y="293" width="4" height="8" fill="#ff0000"/>
<rect x="683" y="290" width="1" height="1" fill="#006400"/>
<rect x="683" y="302" width="1" height="2" fill="#006400"/>
<rect x="681.5" y="291.5" width="3" height="10" fill="#fff" stroke="#006400" stroke-width="1"/>
<rect x="688" y="284" width="1" height="3" fill="#006400"/>
<rect x="686.5" y="287.5" width="3" height="3" fill="#fff" stroke="#006400" stroke-width="1"/>
<rect x="692" y="284" width="1" height="20" fill="#ff0000"/>
<rect x="691" y="287" width="4" height="7" fill="#ff0000"/>
<rect x="697" y="284" width="1" height="10" fill="#006400"/>
<rect x="696" y="291" width="4" height="2" fill="#006400"/>
<rect x="702" y="289" width="1" height="4" fill="#006400"/>
<rect x="701" y="290" width="4" height="2" fill="#006400"/>
<rect x="706.5" y="280.5" width="3" height="9" fill="#fff" stroke="#006400" stroke-width="1"/>
<rect x="712" y="279" width="1" height="6" fill="#006400"/>
<rect x="711" y="280" width="4" height="1" fill="#006400"/>
<rect x="717" y="273" width="1" height="1" fill="#006400"/>
<rect x="717" y="283" width="1" height="2" fill="#006400"/>
<rect x="716.5" y="274.5" width="3" height="8" fill="#fff" stroke="#006400" stroke-width="1"/>
<rect x="722" y="273" width="1" height="4" fill="#ff0000"/>
<rect x="721" y="274" width="4" height="1" fill="#ff0000"/>
<rect x="727" y="269" width="1" height="2" fill="#006400"/>
<rect x="727" y="276" width="1" height="7" fill="#006400"/>
<rect x="725.5" y="271.5" width="3" height="4" fill="#fff" stroke="#006400" stroke-width="1"/>
<rect x="732" y="268" width="1" height="8" fill="#006400"/>
<rect x="730" y="271" width="4" height="1" fill="#006400"/>
<rect x="737" y="265" width="1" height="13" fill="#ff0000"/>
<rect x="735" y="271" width="4" height="4" fill="#ff0000"/>
<rect x="742" y="274" width="1" height="9" fill="#ff0000"/>
<rect x="740" y="274" width="4" height="4" fill="#ff0000"/>
<rect x="747" y="269" width="1" height="3" fill="#006400"/>
<rect x="747" y="276" width="1" height="3" fill="#006400"/>
<rect x="745.5" y="272.5" width="3" height="3" fill="#fff" stroke="#006400" stroke-width="1"/>
<rect x="752" y="272" width="1" height="16" fill="#ff0000"/>
<rect x="750" y="272" width="4" height="12" fill="#ff0000"/>
<rect x="757" y="277" width="1" height="40" fill="#ff0000"/>
<rect x="755" y="282" width="4" height="33" fill="#ff0000"/>
<rect x="761" y="311" width="1" height="16" fill="#ff0000"/>
<rect x="760" y="317" width="4" height="2" fill="#ff0000"/>
<rect x="766" y="318" width="1" height="15" fill="#ff0000"/>
<rect x="765" y="318" width="4" height="15" fill="#ff0000"/>
<rect x="771" y="326" width="1" height="6" fill="#006400"/>
<rect x="771" y="336" width="1" height="1" fill="#006400"/>
<rect x="770.5" y="332.5" width="3" height="3" fill="#fff" stroke="#006400" stroke-width="1"/>
<rect x="776" y="332" width="1" height="5" fill="#006400"/>
<rect x="775.5" y="326.5" width="3" height="5" fill="#fff" stroke="#006400" stroke-width="1"/>
<rect x="781" y="313" width="1" height="6" fill="#006400"/>
<rect x="780.5" y="319.5" width="3" height="6" fill="#fff" stroke="#006400" stroke-width="1"/>
<rect x="786" y="318" width="1" height="4" fill="#006400"/>
<rect x="785.5" y="315.5" width="3" height="2" fill="#fff" stroke="#006400" stroke-width="1"/>
<rect x="791" y="295" width="1" height="10" fill="#006400"/>
<rect x="790.5" y="305.5" width="3" height="8" fill="#fff" stroke="#006400" stroke-width="1"/>
<rect x="796" y="305" width="1" height="18" fill="#006400"/>
<rect x="794.5" y="299.5" width="3" height="5" fill="#fff" stroke="#006400" stroke-width="1"/>
<rect x="801" y="289" width="1" height="7" fill="#006400"/>
<rect x="799.5" y="296.5" width="3" height="3" fill="#fff" stroke="#006400" stroke-width="1"/>
<rect x="806" y="280" width="1" height="10" fill="#006400"/>
<rect x="804.5" y="290.5" width="3" height="3" fill="#fff" stroke="#006400" stroke-width="1"/>
<rect x="811" y="288" width="1" height="22" fill="#ff0000"/>
<rect x="809" y="290" width="4" height="19" fill="#ff0000"/>
<rect x="816" y="305" width="1" height="13" fill="#006400"/>
<rect x="814" y="305" width="4" height="2" fill="#006400"/>
<rect x="819.5" y="292.5" width="3" height="13" fill="#fff" stroke="#006400" stroke-width="1"/>
<rect x="826" y="285" width="1" height="3" fill="#006400"/>
<rect x="824.5" y="288.5" width="3" height="4" fill="#fff" stroke="#006400" stroke-width="1"/>
<rect x="831" y="285" width="1" height="8" fill="#ff0000"/>
<rect x="829" y="288" width="4" height="5" fill="#ff0000"/>
<rect x="835" y="290" width="1" height="15" fill="#ff0000"/>
<rect x="834" y="293" width="4" height="10" fill="#ff0000"/>
<rect x="840" y="307" width="1" height="12" fill="#ff0000"/>
<rect x="839" y="307" width="4" height="8" fill="#ff0000"/>
<rect x="845" y="308" width="1" height="1" fill="#006400"/>
<rect x="845" y="313" width="1" height="9" fill="#006400"/>
<rect x="844.5" y="309.5" width="3" height="3" fill="#fff" stroke="#006400" stroke-width="1"/>
<rect x="850" y="312" width="1" height="20" fill="#ff0000"/>
<rect x="849" y="312" width="4" height="15" fill="#ff0000"/>
<rect x="855" y="326" width="1" height="1" fill="#006400"/>
<rect x="854.5" y="317.5" width="3" height="8" fill="#fff" stroke="#006400" stroke-width="1"/>
<rect x="860" y="313" width="1" height="4" fill="#006400"/>
<rect x="859" y="315" width="4" height="1" fill="#006400"/>
<rect x="865" y="310" width="1" height="14" fill="#ff0000"/>
<rect x="864" y="314" width="4" height="10" fill="#ff0000"/>
<rect x="870" y="322" width="1" height="14" fill="#ff0000"/>
<rect x="868" y="322" width="4" height="6" fill="#ff0000"/>
<rect x="875" y="295" width="1" height="3" fill="#006400"/>
<rect x="873.5" y="298.5" width="3" height="28" fill="#fff" stroke="#006400" stroke-width="1"/>
<rect x="880" y="286" width="1" height="5" fill="#006400"/>
<rect x="878.5" y="291.5" width="3" height="6" fill="#fff" stroke="#006400" stroke-width="1"/>
<rect x="885" y="291" width="1" height="3" fill="#006400"/>
<rect x="883" y="291" width="4" height="1" fill="#006400"/>
<rect x="890" y="276" width="1" height="5" fill="#006400"/>
<rect x="888.5" y="281.5" width="3" height="8" fill="#fff" stroke="#006400" stroke-width="1"/>
<rect x="895" y="266" width="1" height="5" fill="#006400"/>
<rect x="893.5" y="271.5" width="3" height="8" fill="#fff" stroke="#006400" stroke-width="1"/>
<rect x="900" y="262" width="1" height="2" fill="#006400"/>
<rect x="898.5" y="264.5" width="3" height="5" fill="#fff" stroke="#006400" stroke-width="1"/>
<rect x="903.5" y="248.5" width="3" height="15" fill="#fff" stroke="#006400" stroke-width="1"/>
<rect x="909" y="235" width="1" height="2" fill="#006400"/>
<rect x="908.5" y="237.5" width="3" height="8" fill="#fff" stroke="#006400" stroke-width="1"/>
<rect x="914" y="230" width="1" height="11" fill="#ff0000"/>
<rect x="913" y="237" width="4" height="2" fill="#ff0000"/>
<rect x="919" y="236" width="1" height="14" fill="#ff0000"/>
<rect x="918" y="240" width="4" height="1" fill="#ff0000"/>
<rect x="924" y="241" width="1" height="2" fill="#006400"/>
<rect x="923.5" y="222.5" width="3" height="18" fill="#fff" stroke="#006400" stroke-width="1"/>
<rect x="929" y="212" width="1" height="6" fill="#006400"/>
<rect x="929" y="222" width="1" height="5" fill="#006400"/>
<rect x="928.5" y="218.5" width="3" height="3" fill="#fff" stroke="#006400" stroke-width="1"/>
<rect x="934" y="212" width="1" height="15" fill="#ff0000"/>
<rect x="933" y="218" width="4" height="3" fill="#ff0000"/>
<rect x="939" y="210" width="1" height="5" fill="#006400"/>
<rect x="939" y="220" width="1" height="9" fill="#006400"/>
<rect x="937.5" y="215.5" width="3" height="4" fill="#fff" stroke="#006400" stroke-width="1"/>
<rect x="944" y="200" width="1" height="15" fill="#006400"/>
<rect x="942" y="212" width="4" height="2" fill="#006400"/>
<rect x="949" y="210" width="1" height="7" fill="#006400"/>
<rect x="947.5" y="188.5" width="3" height="21" fill="#fff" stroke="#006400" stroke-width="1"/>
<rect x="954" y="185" width="1" height="18" fill="#ff0000"/>
<rect x="952" y="188" width="4" height="15" fill="#ff0000"/>
<rect x="959" y="198" width="1" height="20" fill="#ff0000"/>
<rect x="957" y="203" width="4" height="15" fill="#ff0000"/>
<rect x="964" y="207" width="1" height="6" fill="#006400"/>
<rect x="962.5" y="213.5" width="3" height="3" fill="#fff" stroke="#006400" stroke-width="1"/>
<rect x="969" y="206" width="1" height="15" fill="#ff0000"/>
<rect x="967" y="216" width="4" height="2" fill="#ff0000"/>
<rect x="974" y="217" width="1" height="15" fill="#ff0000"/>
<rect x="972" y="217" width="4" height="13" fill="#ff0000"/>
<rect x="978" y="229" width="1" height="8" fill="#006400"/>
<rect x="977.5" y="225.5" width="3" height="3" fill="#fff" stroke="#006400" stroke-width="1"/>
<rect x="983" y="226" width="1" height="3" fill="#006400"/>
<rect x="982.5" y="223.5" width="3" height="2" fill="#fff" stroke="#006400" stroke-width="1"/>
<rect x="988" y="218" width="1" height="9" fill="#006400"/>
<rect x="987" y="221" width="4" height="1" fill="#006400"/>
<rect x="992.5" y="201.5" width="3" height="18" fill="#fff" stroke="#006400" stroke-width="1"/>
<rect x="998" y="194" width="1" height="9" fill="#006400"/>
<rect x="997" y="199" width="4" height="2" fill="#006400"/>
<rect x="1003" y="189" width="1" height="2" fill="#006400"/>
<rect x="1002.5" y="191.5" width="3" height="7" fill="#fff" stroke="#006400" stroke-width="1"/>
<rect x="1008" y="191" width="1" height="2" fill="#ff0000"/>
<rect x="1007" y="191" width="4" height="2" fill="#ff0000"/>
<rect x="1013" y="183" width="1" height="3" fill="#006400"/>
<rect x="1011.5" y="186.5" width="3" height="5" fill="#fff" stroke="#006400" stroke-width="1"/>
<rect x="1018" y="181" width="1" height="2" fill="#006400"/>
<rect x="1016.5" y="183.5" width="3" height="6" fill="#fff" stroke="#006400" stroke-width="1"/>
<rect x="1021.5" y="174.5" width="3" height="5" fill="#fff" stroke="#006400" stroke-width="1"/>
<rect x="1028" y="168" width="1" height="6" fill="#006400"/>
<rect x="1026" y="172" width="4" height="1" fill="#006400"/>
<rect x="1033" y="157" width="1" height="3" fill="#006400"/>
<rect x="1031.5" y="160.5" width="3" height="11" fill="#fff" stroke="#006400" stroke-width="1"/>
<rect x="1038" y="156" width="1" height="11" fill="#ff0000"/>
<rect x="1036" y="159" width="4" height="7" fill="#ff0000"/>
<rect x="1041.5" y="156.5" width="3" height="8" fill="#fff" stroke="#006400" stroke-width="1"/>
<rect x="1047" y="151" width="1" height="6" fill="#006400"/>
<rect x="1046" y="156" width="4" height="1" fill="#006400"/>
<rect x="1052" y="153" width="1" height="8" fill="#ff0000"/>
<rect x="1051" y="156" width="4" height="1" fill="#ff0000"/>
<rect x="1057" y="142" width="1" height="4" fill="#006400"/>
<rect x="1056.5" y="146.5" width="3" height="9" fill="#fff" stroke="#006400" stroke-width="1"/>
<rect x="1062" y="137" width="1" height="13" fill="#ff0000"/>
<rect x="1061" y="145" width="4" height="2" fill="#ff0000"/>
<rect x="1066.5" y="144.5" width="3" height="2" fill="#fff" stroke="#006400" stroke-width="1"/>
<rect x="1072" y="139" width="1" height="5" fill="#006400"/>
<rect x="1071" y="142" width="4" height="2" fill="#006400"/>
<rect x="1076.5" y="132.5" width="3" height="9" fill="#fff" stroke="#006400" stroke-width="1"/>
<rect x="1082" y="131" width="1" height="2" fill="#006400"/>
<rect x="1080.5" y="127.5" width="3" height="3" fill="#fff" stroke="#006400" stroke-width="1"/>
<rect x="1087" y="124" width="1" height="8" fill="#ff0000"/>
<rect x="1085" y="126" width="4" height="2" fill="#ff0000"/>
<rect x="1092" y="126" width="1" height="4" fill="#006400"/>
<rect x="1090" y="126" width="4" height="2" fill="#006400"/>
<rect x="1097" y="111" width="1" height="2" fill="#006400"/>
<rect x="1095.5" y="113.5" width="3" height="11" fill="#fff" stroke="#006400" stroke-width="1"/>
<rect x="1102" y="102" width="1" height="3" fill="#006400"/>
<rect x="1100.5" y="105.5" width="3" height="7" fill="#fff" stroke="#006400" stroke-width="1"/>
<rect x="1107" y="101" width="1" height="7" fill="#006400"/>
<rect x="1105" y="103" width="4" height="2" fill="#006400"/>
<rect x="1112" y="98" width="1" height="7" fill="#006400"/>
<rect x="1110" y="102" width="4" height="1" fill="#006400"/>
<rect x="1117" y="102" width="1" height="3" fill="#006400"/>
<rect x="1115.5" y="99.5" width="3" height="2" fill="#fff" stroke="#006400" stroke-width="1"/>
<rect x="1121" y="96" width="1" height="24" fill="#ff0000"/>
<rect x="1120" y="101" width="4" height="10" fill="#ff0000"/>
<rect x="1126" y="111" width="1" height="8" fill="#ff0000"/>
<rect x="1125" y="111" width="4" height="1" fill="#ff0000"/>
<rect x="1131" y="111" width="1" height="23" fill="#ff0000"/>
<rect x="1130" y="111" width="4" height="2" fill="#ff0000"/>
<rect x="1135.5" y="94.5" width="3" height="17" fill="#fff" stroke="#006400" stroke-width="1"/>
<rect x="1140.5" y="87.5" width="3" height="6" fill="#fff" stroke="#006400" stroke-width="1"/>
<rect x="1145.5" y="79.5" width="3" height="7" fill="#fff" stroke="#006400" stroke-width="1"/>
<rect x="1151" y="64" width="1" height="2" fill="#006400"/>
<rect x="1150.5" y="66.5" width="3" height="11" fill="#fff" stroke="#006400" stroke-width="1"/>
<rect x="1156" y="66" width="1" height="2" fill="#006400"/>
<rect x="1154.5" y="56.5" width="3" height="9" fill="#fff" stroke="#006400" stroke-width="1"/>
</g>
<g fill="none" stroke-width="1" stroke-linejoin="round">
<path d="M0.0,365.5 L4.5,375.6 L11.2,385.7 L20.2,393.5 L29.1,396.9 L44.8,398.0 L70.0,397.4 L77.4,397.4 L81.6,418.1 L86.5,456.1 L90.6,475.9 L94.8,491.6 L99.7,509.7 L103.0,522.9 L107.2,534.5 L111.3,538.1 L116.2,537.0 L121.2,535.3 L126.2,530.4 L141.0,530.4 L146.0,521.3 L150.9,506.4 L156.7,486.2 L162.5,472.6 L167.4,466.0 L170.7,465.1 L175.7,469.3 L182.3,473.4 L188.9,475.9 L195.5,475.1 L202.1,479.2 L210.4,480.0 L217.0,476.7 L223.6,470.9 L230.2,463.5 L236.8,457.7 L243.4,455.2 L250.0,449.5 L256.6,441.2 L261.2,431.8 L264.9,419.1 L269.9,409.5 L274.8,399.3 L279.8,393.5 L284.7,391.0 L289.7,384.4 L293.8,381.1 L298.8,387.7 L303.7,393.5 L308.7,397.6 L313.6,400.9 L318.6,400.1 L323.5,399.3 L328.5,401.8 L333.4,404.2 L338.4,401.8 L343.4,397.6 L348.3,392.7 L353.3,387.7 L358.2,380.3 L363.2,377.8 L368.1,378.6 L373.1,377.0 L378.0,375.3 L383.0,374.5 L387.9,376.2 L392.9,378.6 L397.9,374.5 L402.8,370.4 L407.8,367.1 L412.7,360.5 L417.7,353.0 L422.6,348.1 L426.8,346.4 L431.7,348.9 L436.7,351.4 L441.6,353.0 L446.6,358.0 L451.5,367.9 L455.0,373.8 L459.9,379.6 L464.9,381.3 L469.8,378.8 L474.8,378.0 L479.7,375.5 L484.7,370.1 L489.6,362.3 L494.6,358.2 L499.5,356.5 L503.7,359.8 L507.0,365.6 L511.1,368.9 L516.1,371.4 L521.0,373.0 L526.0,371.4 L530.9,369.7 L535.9,368.9 L540.8,368.1 L545.8,364.0 L550.7,358.2 L555.7,352.4 L560.7,347.4 L565.6,343.3 L570.6,339.2 L575.5,335.9 L580.5,330.9 L585.4,323.5 L590.4,315.2 L595.3,307.8 L600.3,301.2 L605.2,296.2 L609.4,288.8 L613.5,281.4 L618.5,277.3 L623.4,274.8 L628.4,274.4 L631.7,277.3 L635.8,283.0 L639.9,288.8 L643.7,296.6 L648.3,292.8 L653.2,292.0 L658.2,297.0 L663.1,301.1 L668.1,301.1 L673.0,297.8 L678.0,297.0 L682.9,295.3 L687.9,292.8 L694.5,292.5 L701.1,292.0 L706.1,289.5 L711.0,285.4 L716.0,282.1 L720.9,278.8 L725.9,276.3 L730.8,274.7 L735.8,274.4 L740.7,274.7 L745.7,275.5 L750.7,277.2 L754.8,284.6 L758.1,294.5 L762.2,304.4 L767.2,314.3 L771.3,320.9 L775.4,322.2 L780.4,319.3 L785.3,315.1 L790.3,311.0 L795.2,306.1 L800.2,301.9 L805.2,298.6 L810.1,298.6 L815.1,302.8 L820.0,299.5 L825.0,295.3 L829.9,293.7 L835.7,298.6 L840.8,303.1 L846.5,309.2 L851.5,314.2 L856.4,315.5 L861.4,315.8 L866.3,319.1 L870.5,322.4 L873.8,315.8 L877.9,307.6 L882.8,301.0 L887.8,295.2 L892.8,288.6 L897.7,282.0 L904.9,266.9 L909.6,253.9 L914.5,248.1 L919.5,244.0 L924.5,239.4 L929.4,230.3 L934.7,225.0 L939.6,220.0 L944.6,214.2 L949.5,207.6 L953.7,205.1 L957.8,209.3 L962.8,212.6 L967.7,215.1 L972.7,217.5 L977.6,220.8 L982.6,221.7 L989.2,220.5 L994.1,215.9 L999.1,207.6 L1004.0,202.7 L1009.0,198.5 L1014.0,194.4 L1018.9,189.5 L1023.9,185.3 L1028.8,178.7 L1033.8,172.1 L1038.7,168.0 L1043.7,164.7 L1048.6,161.4 L1053.6,159.7 L1058.5,156.4 L1063.5,151.5 L1068.5,149.0 L1073.4,145.7 L1079.8,138.4 L1084.9,133.8 L1091.7,129.8 L1097.0,124.6 L1102.3,115.3 L1107.6,109.4 L1112.8,105.4 L1116.8,103.4 L1120.8,106.1 L1126.1,108.0 L1131.3,109.4 L1135.3,108.0 L1139.3,102.1 L1144.6,92.8 L1149.8,83.6 L1153.8,75.7 L1157.1,71.0" stroke="#003838" stroke-width="1.1"/>
</g>
<g stroke="#0000ff" stroke-width="1" shape-rendering="crispEdges">
<line x1="0" y1="688.5" x2="1213" y2="688.5"/>
<line x1="0" y1="736.5" x2="1213" y2="736.5"/>
<line x1="0" y1="786.5" x2="1213" y2="786.5"/>
</g>
<g fill="none" stroke-width="1.1" stroke-linejoin="round">
<path d="M0.0,730.6 L7.7,735.0 L15.4,740.1 L25.6,743.4 L35.8,743.9 L42.2,747.8 L48.6,744.4 L53.8,733.7 L60.2,715.8 L66.6,697.8 L73.0,682.5 L76.8,679.9 L80.6,695.3 L84.5,718.3 L88.3,736.2 L90.9,750.3 L98.6,749.0 L107.5,747.8 L113.9,743.9 L120.3,728.6 L126.7,710.6 L133.1,697.8 L139.5,696.6 L145.9,696.6 L152.3,692.7 L158.7,682.5 L165.1,676.1 L172.8,678.6 L179.2,687.6 L184.3,703.0 L190.7,719.6 L195.9,729.1 L201.0,729.8 L207.4,726.0 L215.1,720.9 L221.5,709.4 L227.9,692.7 L234.3,685.0 L240.7,683.8 L247.1,687.6 L253.5,687.6 L259.9,683.8 L267.5,676.8 L276.5,674.8 L284.2,677.4 L291.9,683.8 L298.3,690.2 L304.7,705.5 L309.8,723.4 L313.8,736.2 L317.7,732.4 L324.1,720.9 L330.5,713.2 L336.9,709.4 L343.3,703.0 L349.7,692.7 L356.1,683.8 L362.5,681.2 L367.6,686.3 L372.7,696.6 L378.6,703.0 L385.5,701.7 L391.9,701.7 L398.3,703.0 L404.7,695.3 L411.1,685.0 L417.5,677.9 L423.9,676.1 L430.3,679.9 L435.4,688.9 L441.8,708.1 L447.0,726.0 L450.8,737.5 L455.9,738.8 L462.3,736.2 L468.7,727.3 L475.1,713.2 L481.5,695.3 L487.9,685.0 L494.3,678.6 L500.7,677.4 L505.9,686.3 L511.0,700.4 L516.1,719.6 L519.9,731.1 L526.3,733.2 L531.5,723.4 L537.9,708.1 L543.0,695.3 L549.4,687.6 L555.8,681.2 L562.2,679.9 L569.9,681.2 L577.5,683.0 L583.9,683.8 L590.3,681.2 L598.0,677.9 L607.0,676.8 L614.7,676.8 L620.0,679.9 L626.4,687.6 L632.8,703.0 L639.2,719.6 L644.3,729.8 L649.4,732.4 L655.8,724.7 L661.0,713.2 L667.4,708.1 L676.3,705.5 L685.3,700.4 L694.2,694.0 L701.9,695.3 L708.3,694.0 L714.7,686.3 L722.4,681.2 L730.1,680.4 L736.5,685.0 L742.9,696.6 L749.3,705.5 L755.7,717.0 L760.8,729.8 L767.2,740.1 L773.6,745.2 L780.0,742.6 L785.1,729.8 L791.5,710.6 L796.7,692.7 L801.8,686.3 L808.2,687.6 L814.6,699.1 L822.3,709.4 L828.7,705.5 L836.3,697.8 L841.5,704.2 L846.6,717.0 L851.7,727.3 L856.8,732.4 L863.2,727.3 L869.6,722.2 L876.0,714.5 L882.4,700.4 L887.5,687.6 L895.2,681.2 L902.9,677.9 L910.6,675.3 L917.0,677.9 L923.4,682.5 L930.0,682.0 L936.4,683.0 L942.8,685.6 L950.5,684.5 L956.9,690.2 L962.0,704.2 L968.4,724.7 L974.8,737.5 L979.9,740.9 L985.0,737.5 L990.2,724.7 L995.3,708.1 L1000.4,692.7 L1005.5,685.0 L1011.9,680.4 L1019.6,680.4 L1027.3,679.9 L1035.0,679.9 L1042.6,682.0 L1049.0,685.0 L1055.4,688.1 L1061.8,690.9 L1068.2,692.7 L1073.4,694.8 L1078.5,690.2 L1083.6,685.6 L1090.0,679.9 L1096.4,680.4 L1104.1,680.4 L1111.8,679.9 L1118.2,679.9 L1123.3,686.3 L1128.4,696.6 L1133.5,703.5 L1138.7,703.0 L1143.8,691.4 L1148.9,679.9 L1155.3,673.5" stroke="#000" stroke-dasharray="3,3"/>
<path d="M0.0,729.8 L5.1,732.4 L7.7,737.5 L12.8,741.4 L23.0,742.6 L33.3,743.4 L38.4,751.6 L43.5,749.0 L49.9,733.7 L56.3,709.4 L62.7,697.8 L67.8,685.0 L71.7,672.2 L76.3,672.2 L78.1,700.4 L79.9,728.6 L81.4,752.1 L87.0,752.1 L90.9,750.3 L96.0,747.3 L102.4,747.3 L110.1,745.2 L113.9,738.8 L119.0,718.3 L125.4,697.8 L130.6,694.8 L135.7,692.7 L140.8,701.7 L147.2,697.8 L151.0,687.6 L154.9,677.4 L160.0,673.5 L165.1,676.1 L170.3,678.6 L175.4,685.0 L180.5,697.8 L185.6,717.0 L190.0,737.5 L194.6,728.6 L198.4,728.6 L204.8,722.9 L209.4,727.3 L215.1,711.9 L220.2,697.8 L225.3,687.6 L230.4,681.2 L235.5,682.5 L240.7,685.0 L248.3,690.2 L253.5,686.3 L258.6,681.2 L263.7,674.3 L275.2,674.3 L281.6,678.6 L288.0,685.0 L293.1,687.6 L298.3,697.8 L303.4,718.3 L308.5,740.1 L313.8,735.0 L319.0,723.4 L324.1,713.2 L327.9,708.1 L333.0,708.9 L338.2,708.9 L343.3,695.3 L348.4,687.6 L352.2,679.4 L357.4,680.4 L363.3,680.4 L367.6,692.7 L372.7,704.2 L377.1,706.8 L382.2,696.1 L386.8,700.4 L392.4,707.6 L397.0,700.4 L402.2,690.2 L407.3,679.9 L412.4,678.6 L417.5,675.3 L422.6,675.3 L427.8,679.9 L432.9,692.7 L438.0,710.6 L443.1,728.6 L447.0,741.4 L450.8,741.4 L457.2,736.2 L462.3,731.1 L468.7,720.9 L473.9,705.5 L477.7,687.6 L481.0,680.4 L485.4,679.9 L490.5,676.8 L495.6,676.3 L500.7,678.6 L504.6,695.3 L509.7,715.8 L515.6,737.0 L519.9,734.5 L526.3,732.4 L530.2,714.5 L535.3,700.4 L540.4,690.2 L545.5,688.4 L550.7,679.9 L554.5,677.9 L558.3,680.4 L563.5,679.9 L568.6,682.5 L575.0,683.0 L578.8,685.6 L585.2,679.9 L591.6,678.6 L599.3,676.8 L607.0,676.8 L613.4,676.1 L617.2,679.9 L623.8,688.9 L629.0,697.8 L634.1,715.8 L639.2,731.1 L643.6,744.4 L648.2,728.6 L653.3,715.8 L658.9,704.2 L664.8,709.4 L671.2,705.5 L681.4,700.4 L687.8,694.8 L693.0,690.2 L696.8,694.0 L702.4,700.4 L708.3,688.9 L713.4,683.8 L718.6,679.4 L725.0,680.4 L732.6,682.5 L737.8,692.7 L742.9,704.2 L748.0,709.4 L753.1,717.0 L758.2,735.0 L763.4,741.4 L768.5,746.0 L773.6,746.0 L777.5,743.4 L781.3,731.1 L785.1,713.2 L789.0,695.3 L792.0,687.6 L796.7,685.6 L806.9,685.6 L810.7,695.3 L815.9,711.9 L821.0,714.5 L826.1,703.0 L831.2,692.2 L836.3,697.8 L841.5,713.2 L846.6,727.3 L851.2,737.5 L855.5,731.1 L860.7,724.7 L865.8,718.3 L870.9,718.8 L876.0,708.1 L881.1,690.2 L885.7,680.4 L892.7,680.4 L899.1,678.6 L904.2,676.1 L909.3,674.3 L914.4,678.6 L920.1,684.5 L927.2,683.8 L930.0,683.0 L934.6,682.0 L939.0,684.5 L944.1,687.6 L949.2,682.5 L954.3,687.6 L958.2,699.1 L963.3,718.3 L968.4,736.2 L973.5,745.2 L978.6,740.1 L983.8,731.1 L988.9,713.2 L994.0,695.3 L999.1,685.0 L1004.2,678.6 L1009.4,680.4 L1013.2,679.4 L1018.3,680.4 L1023.4,679.4 L1028.6,680.4 L1033.7,678.9 L1038.8,683.8 L1042.6,682.5 L1047.8,687.6 L1052.9,688.9 L1058.0,690.7 L1063.1,693.2 L1068.2,693.2 L1072.1,696.1 L1077.2,686.3 L1082.3,680.4 L1087.5,677.9 L1093.9,681.2 L1099.0,682.0 L1106.7,679.4 L1111.8,679.9 L1116.9,679.4 L1120.7,685.0 L1125.9,700.4 L1131.5,713.2 L1136.1,697.8 L1141.2,683.8 L1146.3,673.5 L1155.3,673.5" stroke="#ff0000"/>
<path d="M2.6,811.0 L10.2,814.9 L23.0,818.0 L35.8,818.2 L51.2,816.9 L64.0,814.4 L76.8,811.8 L89.6,813.6 L102.4,818.7 L115.2,823.1 L125.4,824.4 L138.2,822.6 L153.6,818.7 L166.4,811.8 L179.2,804.6 L194.6,799.0 L209.9,794.9 L225.3,791.8 L240.7,788.0 L256.0,785.4 L268.8,781.6 L281.6,776.5 L294.4,772.6 L307.2,770.8 L312.6,771.6 L322.8,773.4 L340.7,774.4 L361.2,774.7 L381.7,774.9 L402.2,775.5 L422.6,774.4 L438.0,773.9 L448.2,775.2 L461.0,778.5 L476.4,781.1 L494.3,781.6 L509.7,781.6 L525.1,783.1 L540.4,783.6 L555.8,782.9 L571.1,781.1 L586.5,779.0 L599.3,776.5 L612.1,773.4 L620.0,770.8 L630.2,770.1 L645.6,771.4 L661.0,773.4 L676.3,776.0 L691.7,777.8 L707.0,779.0 L727.5,779.0 L748.0,778.5 L758.2,780.3 L768.5,782.9 L778.7,785.4 L789.0,787.2 L799.2,788.0 L814.6,787.2 L829.9,786.7 L842.7,786.2 L855.5,787.2 L868.3,788.8 L878.6,788.0 L888.8,786.7 L901.6,784.7 L914.4,781.1 L927.2,777.0 L932.6,775.2 L942.8,772.6 L953.0,769.3 L963.3,768.3 L976.1,769.3 L986.3,771.4 L996.6,772.6 L1009.4,771.9 L1024.7,770.8 L1040.1,769.3 L1058.0,768.3 L1075.9,767.8 L1093.9,767.3 L1109.2,766.2 L1124.6,766.8 L1139.9,767.3 L1155.3,766.2" stroke="#ff0000" stroke-dasharray="3,3"/>
<path d="M0.0,818.7 L7.7,821.3 L17.9,822.6 L28.2,821.3 L38.4,818.7 L51.2,814.9 L64.0,811.8 L73.0,809.3 L76.8,808.5 L81.9,811.0 L90.9,818.7 L99.8,823.8 L107.5,828.2 L116.5,828.5 L125.4,825.6 L135.7,823.1 L145.9,818.0 L156.2,808.5 L166.4,800.8 L174.1,797.0 L184.3,793.9 L199.7,791.8 L212.5,789.8 L225.3,787.2 L238.1,784.7 L253.5,781.6 L266.3,776.0 L279.1,770.8 L289.3,768.3 L299.5,768.3 L308.5,770.6 L312.6,771.9 L320.2,772.6 L330.5,775.2 L351.0,775.2 L371.4,774.4 L391.9,776.0 L412.4,775.2 L422.6,773.4 L438.0,773.9 L448.2,777.0 L458.5,781.1 L468.7,783.1 L484.1,783.1 L499.5,781.1 L509.7,782.4 L519.9,784.2 L540.4,784.2 L553.2,782.4 L566.0,779.6 L581.4,777.0 L594.2,773.9 L607.0,770.8 L617.2,768.3 L620.0,766.8 L630.2,766.8 L637.9,769.3 L645.6,772.6 L655.8,774.4 L668.6,777.8 L686.6,779.6 L707.0,779.6 L717.3,778.5 L748.0,778.5 L755.7,780.3 L763.4,784.7 L771.0,788.8 L778.7,790.6 L789.0,790.6 L799.2,788.0 L812.0,787.2 L824.8,786.7 L832.5,785.4 L842.7,786.2 L850.4,788.0 L860.7,789.3 L870.9,790.6 L878.6,788.8 L886.3,786.2 L896.5,782.1 L909.3,776.5 L922.1,772.6 L929.9,769.4 L940.2,767.5 L950.5,766.2 L960.7,767.0 L971.0,768.8 L981.2,771.9 L991.4,773.4 L1004.2,772.6 L1017.0,770.8 L1032.4,769.3 L1047.8,768.3 L1063.1,767.5 L1083.6,767.5 L1099.0,765.7 L1114.3,765.7 L1127.1,767.3 L1145.1,767.3 L1151.5,766.2 L1155.3,765.7" stroke="#ff0000"/>
</g>
<g stroke="#000" stroke-width="1" shape-rendering="crispEdges" fill="none">
<line x1="1213.5" y1="0" x2="1213.5" y2="834"/>
<line x1="0" y1="665.5" x2="1250" y2="665.5"/>
<line x1="0" y1="760.5" x2="1250" y2="760.5"/>
<line x1="0" y1="834.5" x2="1214" y2="834.5"/>
<line x1="0" y1="836.5" x2="1214" y2="836.5"/>
<line x1="1213" y1="0.5" x2="1220" y2="0.5"/>
<line x1="1214" y1="4.5" x2="1216" y2="4.5"/>
<line x1="1214" y1="8.5" x2="1216" y2="8.5"/>
<line x1="1214" y1="12.5" x2="1216" y2="12.5"/>
<line x1="1214" y1="16.5" x2="1216" y2="16.5"/>
<line x1="1214" y1="20.5" x2="1220" y2="20.5"/>
<line x1="1214" y1="24.5" x2="1216" y2="24.5"/>
<line x1="1214" y1="27.5" x2="1216" y2="27.5"/>
<line x1="1214" y1="31.5" x2="1216" y2="31.5"/>
<line x1="1214" y1="35.5" x2="1216" y2="35.5"/>
<line x1="1214" y1="39.5" x2="1220" y2="39.5"/>
<line x1="1214" y1="43.5" x2="1216" y2="43.5"/>
<line x1="1214" y1="47.5" x2="1216" y2="47.5"/>
<line x1="1214" y1="51.5" x2="1216" y2="51.5"/>
<line x1="1214" y1="54.5" x2="1216" y2="54.5"/>
<line x1="1214" y1="58.5" x2="1220" y2="58.5"/>
<line x1="1214" y1="62.5" x2="1216" y2="62.5"/>
<line x1="1214" y1="66.5" x2="1216" y2="66.5"/>
<line x1="1214" y1="70.5" x2="1216" y2="70.5"/>
<line x1="1214" y1="74.5" x2="1216" y2="74.5"/>
<line x1="1214" y1="78.5" x2="1220" y2="78.5"/>
<line x1="1214" y1="81.5" x2="1216" y2="81.5"/>
<line x1="1214" y1="85.5" x2="1216" y2="85.5"/>
<line x1="1214" y1="89.5" x2="1216" y2="89.5"/>
<line x1="1214" y1="93.5" x2="1216" y2="93.5"/>
<line x1="1214" y1="97.5" x2="1220" y2="97.5"/>
<line x1="1214" y1="101.5" x2="1216" y2="101.5"/>
<line x1="1214" y1="105.5" x2="1216" y2="105.5"/>
<line x1="1214" y1="108.5" x2="1216" y2="108.5"/>
<line x1="1214" y1="112.5" x2="1216" y2="112.5"/>
<line x1="1214" y1="116.5" x2="1220" y2="116.5"/>
<line x1="1214" y1="120.5" x2="1216" y2="120.5"/>
<line x1="1214" y1="124.5" x2="1216" y2="124.5"/>
<line x1="1214" y1="128.5" x2="1216" y2="128.5"/>
<line x1="1214" y1="132.5" x2="1216" y2="132.5"/>
<line x1="1214" y1="135.5" x2="1220" y2="135.5"/>
<line x1="1214" y1="139.5" x2="1216" y2="139.5"/>
<line x1="1214" y1="143.5" x2="1216" y2="143.5"/>
<line x1="1214" y1="147.5" x2="1216" y2="147.5"/>
<line x1="1214" y1="151.5" x2="1216" y2="151.5"/>
<line x1="1214" y1="155.5" x2="1220" y2="155.5"/>
<line x1="1214" y1="159.5" x2="1216" y2="159.5"/>
<line x1="1214" y1="162.5" x2="1216" y2="162.5"/>
<line x1="1214" y1="166.5" x2="1216" y2="166.5"/>
<line x1="1214" y1="170.5" x2="1216" y2="170.5"/>
<line x1="1214" y1="174.5" x2="1220" y2="174.5"/>
<line x1="1214" y1="178.5" x2="1216" y2="178.5"/>
<line x1="1214" y1="182.5" x2="1216" y2="182.5"/>
<line x1="1214" y1="186.5" x2="1216" y2="186.5"/>
<line x1="1214" y1="189.5" x2="1216" y2="189.5"/>
<line x1="1214" y1="193.5" x2="1220" y2="193.5"/>
<line x1="1214" y1="197.5" x2="1216" y2="197.5"/>
<line x1="1214" y1="201.5" x2="1216" y2="201.5"/>
<line x1="1214" y1="205.5" x2="1216" y2="205.5"/>
<line x1="1214" y1="209.5" x2="1216" y2="209.5"/>
<line x1="1214" y1="213.5" x2="1220" y2="213.5"/>
<line x1="1214" y1="216.5" x2="1216" y2="216.5"/>
<line x1="1214" y1="220.5" x2="1216" y2="220.5"/>
<line x1="1214" y1="224.5" x2="1216" y2="224.5"/>
<line x1="1214" y1="228.5" x2="1216" y2="228.5"/>
<line x1="1214" y1="232.5" x2="1220" y2="232.5"/>
<line x1="1214" y1="236.5" x2="1216" y2="236.5"/>
<line x1="1214" y1="240.5" x2="1216" y2="240.5"/>
<line x1="1214" y1="243.5" x2="1216" y2="243.5"/>
<line x1="1214" y1="247.5" x2="1216" y2="247.5"/>
<line x1="1214" y1="251.5" x2="1220" y2="251.5"/>
<line x1="1214" y1="255.5" x2="1216" y2="255.5"/>
<line x1="1214" y1="259.5" x2="1216" y2="259.5"/>
<line x1="1214" y1="263.5" x2="1216" y2="263.5"/>
<line x1="1214" y1="267.5" x2="1216" y2="267.5"/>
<line x1="1214" y1="270.5" x2="1220" y2="270.5"/>
<line x1="1214" y1="274.5" x2="1216" y2="274.5"/>
<line x1="1214" y1="278.5" x2="1216" y2="278.5"/>
<line x1="1214" y1="282.5" x2="1216" y2="282.5"/>
<line x1="1214" y1="286.5" x2="1216" y2="286.5"/>
<line x1="1214" y1="290.5" x2="1220" y2="290.5"/>
<line x1="1214" y1="294.5" x2="1216" y2="294.5"/>
<line x1="1214" y1="297.5" x2="1216" y2="297.5"/>
<line x1="1214" y1="301.5" x2="1216" y2="301.5"/>
<line x1="1214" y1="305.5" x2="1216" y2="305.5"/>
<line x1="1214" y1="309.5" x2="1220" y2="309.5"/>
<line x1="1214" y1="313.5" x2="1216" y2="313.5"/>
<line x1="1214" y1="317.5" x2="1216" y2="317.5"/>
<line x1="1214" y1="321.5" x2="1216" y2="321.5"/>
<line x1="1214" y1="324.5" x2="1216" y2="324.5"/>
<line x1="1214" y1="328.5" x2="1220" y2="328.5"/>
<line x1="1214" y1="332.5" x2="1216" y2="332.5"/>
<line x1="1214" y1="336.5" x2="1216" y2="336.5"/>
<line x1="1214" y1="340.5" x2="1216" y2="340.5"/>
<line x1="1214" y1="344.5" x2="1216" y2="344.5"/>
<line x1="1214" y1="348.5" x2="1220" y2="348.5"/>
<line x1="1214" y1="351.5" x2="1216" y2="351.5"/>
<line x1="1214" y1="355.5" x2="1216" y2="355.5"/>
<line x1="1214" y1="359.5" x2="1216" y2="359.5"/>
<line x1="1214" y1="363.5" x2="1216" y2="363.5"/>
<line x1="1214" y1="367.5" x2="1220" y2="367.5"/>
<line x1="1214" y1="371.5" x2="1216" y2="371.5"/>
<line x1="1214" y1="375.5" x2="1216" y2="375.5"/>
<line x1="1214" y1="378.5" x2="1216" y2="378.5"/>
<line x1="1214" y1="382.5" x2="1216" y2="382.5"/>
<line x1="1214" y1="386.5" x2="1220" y2="386.5"/>
<line x1="1214" y1="390.5" x2="1216" y2="390.5"/>
<line x1="1214" y1="394.5" x2="1216" y2="394.5"/>
<line x1="1214" y1="398.5" x2="1216" y2="398.5"/>
<line x1="1214" y1="402.5" x2="1216" y2="402.5"/>
<line x1="1214" y1="405.5" x2="1220" y2="405.5"/>
<line x1="1214" y1="409.5" x2="1216" y2="409.5"/>
<line x1="1214" y1="413.5" x2="1216" y2="413.5"/>
<line x1="1214" y1="417.5" x2="1216" y2="417.5"/>
<line x1="1214" y1="421.5" x2="1216" y2="421.5"/>
<line x1="1214" y1="425.5" x2="1220" y2="425.5"/>
<line x1="1214" y1="428.5" x2="1216" y2="428.5"/>
<line x1="1214" y1="432.5" x2="1216" y2="432.5"/>
<line x1="1214" y1="436.5" x2="1216" y2="436.5"/>
<line x1="1214" y1="440.5" x2="1216" y2="440.5"/>
<line x1="1214" y1="444.5" x2="1220" y2="444.5"/>
<line x1="1214" y1="448.5" x2="1216" y2="448.5"/>
<line x1="1214" y1="452.5" x2="1216" y2="452.5"/>
<line x1="1214" y1="455.5" x2="1216" y2="455.5"/>
<line x1="1214" y1="459.5" x2="1216" y2="459.5"/>
<line x1="1214" y1="463.5" x2="1220" y2="463.5"/>
<line x1="1214" y1="467.5" x2="1216" y2="467.5"/>
<line x1="1214" y1="471.5" x2="1216" y2="471.5"/>
<line x1="1214" y1="475.5" x2="1216" y2="475.5"/>
<line x1="1214" y1="479.5" x2="1216" y2="479.5"/>
<line x1="1214" y1="482.5" x2="1220" y2="482.5"/>
<line x1="1214" y1="486.5" x2="1216" y2="486.5"/>
<line x1="1214" y1="490.5" x2="1216" y2="490.5"/>
<line x1="1214" y1="494.5" x2="1216" y2="494.5"/>
<line x1="1214" y1="498.5" x2="1216" y2="498.5"/>
<line x1="1214" y1="502.5" x2="1220" y2="502.5"/>
<line x1="1214" y1="506.5" x2="1216" y2="506.5"/>
<line x1="1214" y1="509.5" x2="1216" y2="509.5"/>
<line x1="1214" y1="513.5" x2="1216" y2="513.5"/>
<line x1="1214" y1="517.5" x2="1216" y2="517.5"/>
<line x1="1214" y1="521.5" x2="1220" y2="521.5"/>
<line x1="1214" y1="525.5" x2="1216" y2="525.5"/>
<line x1="1214" y1="529.5" x2="1216" y2="529.5"/>
<line x1="1214" y1="533.5" x2="1216" y2="533.5"/>
<line x1="1214" y1="536.5" x2="1216" y2="536.5"/>
<line x1="1214" y1="540.5" x2="1220" y2="540.5"/>
<line x1="1214" y1="544.5" x2="1216" y2="544.5"/>
<line x1="1214" y1="548.5" x2="1216" y2="548.5"/>
<line x1="1214" y1="552.5" x2="1216" y2="552.5"/>
<line x1="1214" y1="556.5" x2="1216" y2="556.5"/>
<line x1="1214" y1="560.5" x2="1220" y2="560.5"/>
<line x1="1214" y1="563.5" x2="1216" y2="563.5"/>
<line x1="1214" y1="567.5" x2="1216" y2="567.5"/>
<line x1="1214" y1="571.5" x2="1216" y2="571.5"/>
<line x1="1214" y1="575.5" x2="1216" y2="575.5"/>
<line x1="1214" y1="579.5" x2="1220" y2="579.5"/>
<line x1="1214" y1="583.5" x2="1216" y2="583.5"/>
<line x1="1214" y1="587.5" x2="1216" y2="587.5"/>
<line x1="1214" y1="590.5" x2="1216" y2="590.5"/>
<line x1="1214" y1="594.5" x2="1216" y2="594.5"/>
<line x1="1214" y1="598.5" x2="1220" y2="598.5"/>
<line x1="1214" y1="602.5" x2="1216" y2="602.5"/>
<line x1="1214" y1="606.5" x2="1216" y2="606.5"/>
<line x1="1214" y1="610.5" x2="1216" y2="610.5"/>
<line x1="1214" y1="614.5" x2="1216" y2="614.5"/>
<line x1="1214" y1="617.5" x2="1220" y2="617.5"/>
<line x1="1214" y1="621.5" x2="1216" y2="621.5"/>
<line x1="1214" y1="625.5" x2="1216" y2="625.5"/>
<line x1="1214" y1="629.5" x2="1216" y2="629.5"/>
<line x1="1214" y1="633.5" x2="1216" y2="633.5"/>
<line x1="1214" y1="637.5" x2="1220" y2="637.5"/>
<line x1="1214" y1="641.5" x2="1216" y2="641.5"/>
<line x1="1214" y1="644.5" x2="1216" y2="644.5"/>
<line x1="1214" y1="648.5" x2="1216" y2="648.5"/>
<line x1="1214" y1="652.5" x2="1216" y2="652.5"/>
<line x1="1214" y1="656.5" x2="1220" y2="656.5"/>
<line x1="1214" y1="660.5" x2="1216" y2="660.5"/>
<line x1="1214" y1="664.5" x2="1216" y2="664.5"/>
<line x1="1214" y1="672.5" x2="1220" y2="672.5"/>
<line x1="1214" y1="680.5" x2="1216" y2="680.5"/>
<line x1="1214" y1="688.5" x2="1216" y2="688.5"/>
<line x1="1214" y1="696.5" x2="1216" y2="696.5"/>
<line x1="1214" y1="704.5" x2="1216" y2="704.5"/>
<line x1="1214" y1="712.5" x2="1220" y2="712.5"/>
<line x1="1214" y1="720.5" x2="1216" y2="720.5"/>
<line x1="1214" y1="728.5" x2="1216" y2="728.5"/>
<line x1="1214" y1="736.5" x2="1216" y2="736.5"/>
<line x1="1214" y1="744.5" x2="1216" y2="744.5"/>
<line x1="1214" y1="752.5" x2="1220" y2="752.5"/>
<line x1="1214" y1="764.5" x2="1216" y2="764.5"/>
<line x1="1214" y1="767.5" x2="1216" y2="767.5"/>
<line x1="1214" y1="770.5" x2="1220" y2="770.5"/>
<line x1="1214" y1="773.5" x2="1216" y2="773.5"/>
<line x1="1214" y1="776.5" x2="1216" y2="776.5"/>
<line x1="1214" y1="779.5" x2="1216" y2="779.5"/>
<line x1="1214" y1="782.5" x2="1216" y2="782.5"/>
<line x1="1214" y1="786.5" x2="1220" y2="786.5"/>
<line x1="1214" y1="789.5" x2="1216" y2="789.5"/>
<line x1="1214" y1="792.5" x2="1216" y2="792.5"/>
<line x1="1214" y1="795.5" x2="1216" y2="795.5"/>
<line x1="1214" y1="798.5" x2="1216" y2="798.5"/>
<line x1="1214" y1="801.5" x2="1220" y2="801.5"/>
<line x1="1214" y1="804.5" x2="1216" y2="804.5"/>
<line x1="1214" y1="807.5" x2="1216" y2="807.5"/>
<line x1="1214" y1="810.5" x2="1216" y2="810.5"/>
<line x1="1214" y1="813.5" x2="1216" y2="813.5"/>
<line x1="1214" y1="816.5" x2="1220" y2="816.5"/>
<line x1="1214" y1="819.5" x2="1216" y2="819.5"/>
<line x1="1214" y1="822.5" x2="1216" y2="822.5"/>
<line x1="1214" y1="825.5" x2="1216" y2="825.5"/>
<line x1="1214" y1="828.5" x2="1216" y2="828.5"/>
<line x1="1214" y1="832.5" x2="1220" y2="832.5"/>
<line x1="7.5" y1="836" x2="7.5" y2="848"/>
<line x1="32.5" y1="836" x2="32.5" y2="848"/>
<line x1="51.5" y1="836" x2="51.5" y2="848"/>
<line x1="71.5" y1="836" x2="71.5" y2="848"/>
<line x1="91.5" y1="836" x2="91.5" y2="848"/>
<line x1="116.5" y1="836" x2="116.5" y2="848"/>
<line x1="135.5" y1="836" x2="135.5" y2="848"/>
<line x1="155.5" y1="836" x2="155.5" y2="848"/>
<line x1="179.5" y1="836" x2="179.5" y2="848"/>
<line x1="200.5" y1="836" x2="200.5" y2="848"/>
<line x1="219.5" y1="836" x2="219.5" y2="848"/>
<line x1="244.5" y1="836" x2="244.5" y2="848"/>
<line x1="263.5" y1="836" x2="263.5" y2="848"/>
<line x1="284.5" y1="836" x2="284.5" y2="848"/>
<line x1="308.5" y1="836" x2="308.5" y2="848"/>
<line x1="328.5" y1="836" x2="328.5" y2="848"/>
<line x1="352.5" y1="836" x2="352.5" y2="848"/>
<line x1="372.5" y1="836" x2="372.5" y2="848"/>
<line x1="392.5" y1="836" x2="392.5" y2="848"/>
<line x1="412.5" y1="836" x2="412.5" y2="848"/>
<line x1="436.5" y1="836" x2="436.5" y2="848"/>
<line x1="456.5" y1="836" x2="456.5" y2="848"/>
<line x1="476.5" y1="836" x2="476.5" y2="848"/>
<line x1="501.5" y1="836" x2="501.5" y2="848"/>
<line x1="521.5" y1="836" x2="521.5" y2="848"/>
<line x1="540.5" y1="836" x2="540.5" y2="848"/>
<line x1="564.5" y1="836" x2="564.5" y2="848"/>
<line x1="584.5" y1="836" x2="584.5" y2="848"/>
<line x1="609.5" y1="836" x2="609.5" y2="848"/>
<line x1="628.5" y1="836" x2="628.5" y2="848"/>
<line x1="648.5" y1="836" x2="648.5" y2="848"/>
<line x1="668.5" y1="836" x2="668.5" y2="848"/>
<line x1="692.5" y1="836" x2="692.5" y2="848"/>
<line x1="712.5" y1="836" x2="712.5" y2="848"/>
<line x1="732.5" y1="836" x2="732.5" y2="848"/>
<line x1="757.5" y1="836" x2="757.5" y2="848"/>
<line x1="781.5" y1="836" x2="781.5" y2="848"/>
<line x1="801.5" y1="836" x2="801.5" y2="848"/>
<line x1="821.5" y1="836" x2="821.5" y2="848"/>
<line x1="841.5" y1="836" x2="841.5" y2="848"/>
<line x1="865.5" y1="836" x2="865.5" y2="848"/>
<line x1="885.5" y1="836" x2="885.5" y2="848"/>
<line x1="905.5" y1="836" x2="905.5" y2="848"/>
<line x1="929.5" y1="836" x2="929.5" y2="848"/>
<line x1="949.5" y1="836" x2="949.5" y2="848"/>
<line x1="969.5" y1="836" x2="969.5" y2="848"/>
<line x1="994.5" y1="836" x2="994.5" y2="848"/>
<line x1="1013.5" y1="836" x2="1013.5" y2="848"/>
<line x1="1038.5" y1="836" x2="1038.5" y2="848"/>
<line x1="1058.5" y1="836" x2="1058.5" y2="848"/>
<line x1="1077.5" y1="836" x2="1077.5" y2="848"/>
<line x1="1102.5" y1="836" x2="1102.5" y2="848"/>
<line x1="1122.5" y1="836" x2="1122.5" y2="848"/>
<line x1="1141.5" y1="836" x2="1141.5" y2="848"/>
<line x1="1161.5" y1="836" x2="1161.5" y2="848"/>
<line x1="1186.5" y1="836" x2="1186.5" y2="848"/>
<line x1="1205.5" y1="836" x2="1205.5" y2="848"/>
</g>
<g font-family="Liberation Sans, sans-serif" font-size="9px" fill="#000">
<text x="606" y="10" text-anchor="middle" textLength="239.5" lengthAdjust="spacingAndGlyphs">KSE (17,796.95, 18,085.53, 17,750.26, 18,074.27, +277.049)</text>
<text x="606" y="674.8" text-anchor="middle" textLength="121" lengthAdjust="spacingAndGlyphs">Stochastic Oscillator (98.1197)</text>
<text x="605.5" y="769.8" text-anchor="middle" textLength="64.5" lengthAdjust="spacingAndGlyphs">MACD (670.371)</text>
<g text-anchor="end" letter-spacing="-0.2">
<text x="1247" y="23.6">19000</text>
<text x="1247" y="42.6">18500</text>
<text x="1247" y="61.6">18000</text>
<text x="1247" y="81.6">17500</text>
<text x="1247" y="100.6">17000</text>
<text x="1247" y="119.6">16500</text>
<text x="1247" y="138.6">16000</text>
<text x="1247" y="158.6">15500</text>
<text x="1247" y="177.6">15000</text>
<text x="1247" y="196.6">14500</text>
<text x="1247" y="216.6">14000</text>
<text x="1247" y="235.6">13500</text>
<text x="1247" y="254.6">13000</text>
<text x="1247" y="273.6">12500</text>
<text x="1247" y="293.6">12000</text>
<text x="1247" y="312.6">11500</text>
<text x="1247" y="331.6">11000</text>
<text x="1247" y="351.6">10500</text>
<text x="1247" y="370.6">10000</text>
<text x="1247" y="389.6">9500</text>
<text x="1247" y="408.6">9000</text>
<text x="1247" y="428.6">8500</text>
<text x="1247" y="447.6">8000</text>
<text x="1247" y="466.6">7500</text>
<text x="1247" y="485.6">7000</text>
<text x="1247" y="505.6">6500</text>
<text x="1247" y="524.6">6000</text>
<text x="1247" y="543.6">5500</text>
<text x="1247" y="563.6">5000</text>
<text x="1247" y="582.6">4500</text>
<text x="1247" y="601.6">4000</text>
<text x="1247" y="620.6">3500</text>
<text x="1247" y="640.6">3000</text>
<text x="1247" y="659.6">2500</text>
<text x="1247" y="675.6">100</text>
<text x="1247" y="715.6">50</text>
<text x="1247" y="755.6">0</text>
<text x="1247" y="773.6">500</text>
<text x="1247" y="789.6">0</text>
<text x="1247" y="804.6">-500</text>
<text x="1247" y="819.6">-1000</text>
</g>
<text x="9" y="847">Sep</text>
<text x="34" y="847">Oct</text>
<text x="53" y="847">Nov</text>
<text x="73" y="847">Dec</text>
<text x="93" y="847">2009</text>
<text x="137" y="847">Mar</text>
<text x="157" y="847">Apr</text>
<text x="181" y="847">May</text>
<text x="202" y="847">Jun</text>
<text x="221" y="847">Jul</text>
<text x="246" y="847">Aug</text>
<text x="265" y="847">Sep</text>
<text x="286" y="847">Oct</text>
<text x="310" y="847">Nov</text>
<text x="330" y="847">Dec</text>
<text x="354" y="847">2010</text>
<text x="394" y="847">Mar</text>
<text x="414" y="847">Apr</text>
<text x="438" y="847">May</text>
<text x="458" y="847">Jun</text>
<text x="478" y="847">Jul</text>
<text x="503" y="847">Aug</text>
<text x="523" y="847">Sep</text>
<text x="542" y="847">Oct</text>
<text x="566" y="847">Nov</text>
<text x="586" y="847">Dec</text>
<text x="611" y="847">2011</text>
<text x="650" y="847">Mar</text>
<text x="670" y="847">Apr</text>
<text x="694" y="847">May</text>
<text x="714" y="847">Jun</text>
<text x="734" y="847">Jul</text>
<text x="759" y="847">Aug</text>
<text x="783" y="847">Sep</text>
<text x="803" y="847">Oct</text>
<text x="823" y="847">Nov</text>
<text x="843" y="847">Dec</text>
<text x="867" y="847">2012</text>
<text x="907" y="847">Mar</text>
<text x="931" y="847">Apr</text>
<text x="951" y="847">May</text>
<text x="971" y="847">Jun</text>
<text x="996" y="847">Jul</text>
<text x="1015" y="847">Aug</text>
<text x="1040" y="847">Sep</text>
<text x="1060" y="847">Oct</text>
<text x="1079" y="847">Nov</text>
<text x="1104" y="847">Dec</text>
<text x="1124" y="847">2013</text>
<text x="1163" y="847">Mar</text>
<text x="1188" y="847">Apr</text>
<text x="1207" y="847">M</text>
</g>
</svg>
</body></html>
